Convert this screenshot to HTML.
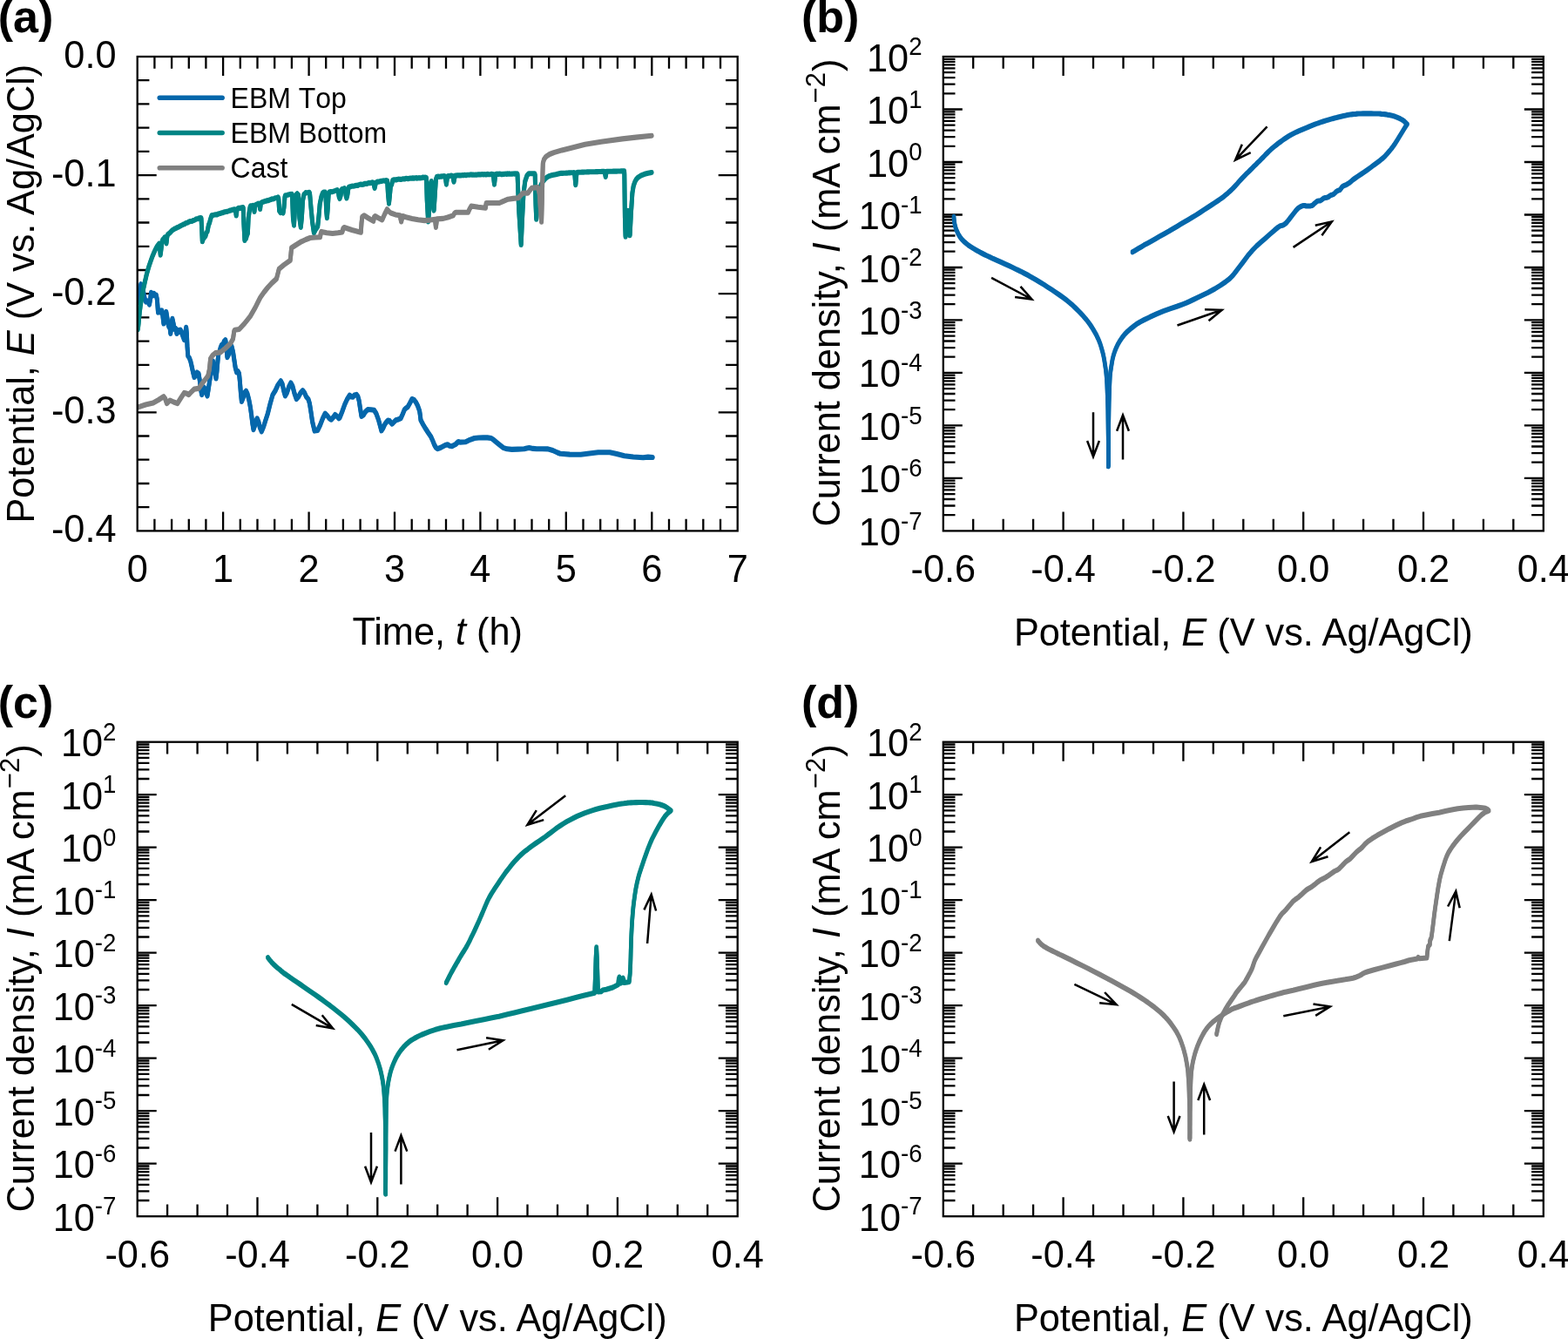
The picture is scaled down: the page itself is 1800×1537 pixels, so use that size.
<!DOCTYPE html>
<html lang="en"><head><meta charset="utf-8"><title>Figure</title>
<style>html,body{margin:0;padding:0;background:#fff;}svg{display:block;}text{font-family:"Liberation Sans", Arial, Helvetica, sans-serif;fill:#000;}</style>
</head><body>
<svg width="1800" height="1537" viewBox="0 0 1800 1537">
<rect width="1800" height="1537" fill="#fff"/>
<defs>
<clipPath id="ca"><rect x="157.7" y="65" width="689" height="544.4"/></clipPath>
<clipPath id="cb"><rect x="1082.8" y="65" width="689" height="544.4"/></clipPath>
<clipPath id="cc"><rect x="157.7" y="851.7" width="689" height="544.5"/></clipPath>
<clipPath id="cd"><rect x="1082.8" y="851.7" width="689" height="544.5"/></clipPath>
</defs>
<g id="panel-a">
<path d="M177.4 609.4L177.4 595.7M177.4 65L177.4 78.7M197.1 609.4L197.1 595.7M197.1 65L197.1 78.7M216.8 609.4L216.8 595.7M216.8 65L216.8 78.7M236.4 609.4L236.4 595.7M236.4 65L236.4 78.7M256.1 609.4L256.1 587.4M256.1 65L256.1 87M275.8 609.4L275.8 595.7M275.8 65L275.8 78.7M295.5 609.4L295.5 595.7M295.5 65L295.5 78.7M315.2 609.4L315.2 595.7M315.2 65L315.2 78.7M334.9 609.4L334.9 595.7M334.9 65L334.9 78.7M354.6 609.4L354.6 587.4M354.6 65L354.6 87M374.2 609.4L374.2 595.7M374.2 65L374.2 78.7M393.9 609.4L393.9 595.7M393.9 65L393.9 78.7M413.6 609.4L413.6 595.7M413.6 65L413.6 78.7M433.3 609.4L433.3 595.7M433.3 65L433.3 78.7M453 609.4L453 587.4M453 65L453 87M472.7 609.4L472.7 595.7M472.7 65L472.7 78.7M492.4 609.4L492.4 595.7M492.4 65L492.4 78.7M512 609.4L512 595.7M512 65L512 78.7M531.7 609.4L531.7 595.7M531.7 65L531.7 78.7M551.4 609.4L551.4 587.4M551.4 65L551.4 87M571.1 609.4L571.1 595.7M571.1 65L571.1 78.7M590.8 609.4L590.8 595.7M590.8 65L590.8 78.7M610.5 609.4L610.5 595.7M610.5 65L610.5 78.7M630.2 609.4L630.2 595.7M630.2 65L630.2 78.7M649.8 609.4L649.8 587.4M649.8 65L649.8 87M669.5 609.4L669.5 595.7M669.5 65L669.5 78.7M689.2 609.4L689.2 595.7M689.2 65L689.2 78.7M708.9 609.4L708.9 595.7M708.9 65L708.9 78.7M728.6 609.4L728.6 595.7M728.6 65L728.6 78.7M748.3 609.4L748.3 587.4M748.3 65L748.3 87M768 609.4L768 595.7M768 65L768 78.7M787.6 609.4L787.6 595.7M787.6 65L787.6 78.7M807.3 609.4L807.3 595.7M807.3 65L807.3 78.7M827 609.4L827 595.7M827 65L827 78.7" stroke="#000" stroke-width="2.3" fill="none"/>
<path d="M157.7 92.2L171.4 92.2M846.7 92.2L833 92.2M157.7 119.4L171.4 119.4M846.7 119.4L833 119.4M157.7 146.7L171.4 146.7M846.7 146.7L833 146.7M157.7 173.9L171.4 173.9M846.7 173.9L833 173.9M157.7 201.1L179.7 201.1M846.7 201.1L824.7 201.1M157.7 228.3L171.4 228.3M846.7 228.3L833 228.3M157.7 255.5L171.4 255.5M846.7 255.5L833 255.5M157.7 282.8L171.4 282.8M846.7 282.8L833 282.8M157.7 310L171.4 310M846.7 310L833 310M157.7 337.2L179.7 337.2M846.7 337.2L824.7 337.2M157.7 364.4L171.4 364.4M846.7 364.4L833 364.4M157.7 391.6L171.4 391.6M846.7 391.6L833 391.6M157.7 418.9L171.4 418.9M846.7 418.9L833 418.9M157.7 446.1L171.4 446.1M846.7 446.1L833 446.1M157.7 473.3L179.7 473.3M846.7 473.3L824.7 473.3M157.7 500.5L171.4 500.5M846.7 500.5L833 500.5M157.7 527.7L171.4 527.7M846.7 527.7L833 527.7M157.7 555L171.4 555M846.7 555L833 555M157.7 582.2L171.4 582.2M846.7 582.2L833 582.2" stroke="#000" stroke-width="2.3" fill="none"/>
<g clip-path="url(#ca)">
<path d="M158.3 346.4 L159.4 339.7 L160.6 331.4 L161.8 325.6 L163.4 328.4 L165 336.4 L166.4 343.4 L167.6 345.9 L169.4 344.9 L171.5 349 L172.6 342.4 L173.5 335.2 L175.2 338.9 L176.6 336.2 L178 338.4 L179.3 338 L180.4 343.4 L181.5 358 L183 355.6 L184.4 358 L185.8 355.9 L186.8 361.4 L187.9 370.9 L189 364.4 L189.8 360.4 L190.8 357.3 L191.8 363.4 L192.9 370.9 L193.8 374.4 L194.8 373.4 L195.8 382.4 L196.8 371.4 L197.9 365.2 L199.2 371.4 L200.2 377.4 L201.6 376.4 L202.9 382.4 L204.4 378.4 L205.8 380.4 L207.2 378.1 L208.6 381.4 L210 385.4 L211.5 389.5 L212.6 382.4 L213.7 375.2 L214.4 382.4 L215 397.4 L215.8 408.1 L217.2 409.9 L218.7 413.8 L220 419.4 L221.4 425.9 L223 432.4 L224.6 430.4 L226.2 426.9 L228 428.2 L229.2 435.4 L230.4 445.4 L231.6 452.5 L232.8 448.4 L234 443.9 L235.1 445.3 L236.4 450.4 L238 453.9 L239.2 446.4 L240.4 438.4 L241.6 431 L242.6 423.4 L243.4 416.4 L244.4 413.8 L245.6 419.4 L246.8 427.9 L248 433.9 L249 425.4 L250 413.4 L250.9 405.3 L252.2 402.4 L253.2 398.4 L254.5 395.2 L255.8 396.9 L257.2 391.4 L258.8 389.5 L259.8 397.4 L260.9 409.6 L262.4 406.4 L264 401.4 L265.9 396.7 L267.5 403.4 L269 413.4 L270.2 421.4 L271.6 426.7 L273 425.4 L274.5 428.2 L275.4 437.4 L276.4 450.4 L277.4 460.4 L279 456.4 L280.6 450.4 L282.4 448.2 L284 451.4 L285.8 458.4 L287.4 466.8 L288.6 475.4 L289.8 485.4 L291 492.6 L292.4 488.4 L293.8 482.4 L295.2 479.7 L296.8 483.4 L298.4 490.4 L300.3 494.7 L302.5 489.4 L305 481.4 L307.4 474 L310 463.4 L313.1 452.5 L316 447.9 L319 441.4 L322.4 436.7 L324.2 440.4 L325.8 448.4 L327.4 453.9 L329.4 450.4 L331.6 443.4 L333.9 438.9 L335.8 442.4 L338 450.9 L340.3 457.5 L342.6 454.9 L345 450.4 L347.5 447.5 L349.4 449.9 L351.6 454.9 L353.9 457.5 L355.4 462.4 L357 472.4 L358.6 483.4 L361.1 494 L364.7 493.3 L367.5 487.4 L370.4 479.9 L373.2 474 L375.6 476.4 L378 479.6 L380.4 481.1 L382.6 478.4 L384.7 475.4 L387 477.4 L389 479.7 L390 478.8 L392.6 472.4 L395.7 463.8 L398.4 457.9 L401.4 453.1 L403.2 454.9 L405 455.2 L407 452.9 L409.3 452.3 L410.8 454.4 L412.2 459.5 L413.4 467.4 L415 477.4 L417.2 475.9 L419.6 471.9 L422.2 469.5 L425.6 469.6 L429.4 470.2 L431.8 473.9 L434.4 481 L436.2 487.4 L437.9 493.8 L440 490.4 L441.8 486.4 L443.7 483.8 L445.4 482 L447.2 482.4 L448.6 484.4 L450.1 486 L452.2 483.9 L454.4 481.7 L457.2 480.9 L460.1 479.5 L462.2 474.9 L464.4 469.5 L466.2 467.8 L468 466.7 L470.4 462.4 L473 457.4 L475.2 458.2 L477.3 460.9 L479.4 464.9 L481.6 471 L482.4 476.4 L483 481.7 L485.8 486.9 L488.7 491.7 L491.6 496.2 L494.5 500.3 L496.6 504.9 L498.8 510.3 L500.4 513.2 L502.3 514.6 L505.5 513.4 L508.8 511.7 L511.2 510.4 L513.8 509.6 L516.2 511.2 L518.8 511.7 L523 509.4 L526.2 506.4 L528 507 L534.5 506.7 L539.5 504.2 L544.6 502.4 L549.5 501.9 L554.6 501.7 L559.5 501.8 L563.9 502.4 L567 504.6 L570.3 507.4 L574 510.4 L577.5 513.2 L582 514.7 L587.5 515.3 L594.5 515 L601.8 514.6 L604.8 513.9 L607.5 513.5 L611.8 514.3 L616.1 514.6 L622.5 514.7 L629 514.8 L634.5 516.4 L640 518.9 L643.3 520.2 L654 521 L666.7 521.1 L676.5 519.9 L686.7 518.6 L700 518.6 L708 520.4 L716.7 522.7 L727 523.9 L738.3 524.7 L744 524 L749.2 524.4" fill="none" stroke="#0567ab" stroke-width="4.9" stroke-linecap="round" stroke-linejoin="round"/>
<path d="M158.3 347.6 L159.4 340.9 L160.6 332.6 L161.8 326.8 L163.4 329.6 L165 337.6 L166.4 344.6 L167.6 347.1 L169.4 346.1 L171.5 350.2 L172.6 343.6 L173.5 336.4 L175.2 340.1 L176.6 337.4 L178 339.6 L179.3 339.2 L180.4 344.6 L181.5 359.2 L183 356.8 L184.4 359.2 L185.8 357.1 L186.8 362.6 L187.9 372.1 L189 365.6 L189.8 361.6 L190.8 358.5 L191.8 364.6 L192.9 372.1 L193.8 375.6 L194.8 374.6 L195.8 383.6 L196.8 372.6 L197.9 366.4 L199.2 372.6 L200.2 378.6 L201.6 377.6 L202.9 383.6 L204.4 379.6 L205.8 381.6 L207.2 379.3 L208.6 382.6 L210 386.6 L211.5 390.7 L212.6 383.6 L213.7 376.4 L214.4 383.6 L215 398.6 L215.8 409.3 L217.2 411.1 L218.7 415 L220 420.6 L221.4 427.1 L223 433.6 L224.6 431.6 L226.2 428.1 L228 429.4 L229.2 436.6 L230.4 446.6 L231.6 453.7 L232.8 449.6 L234 445.1 L235.1 446.5 L236.4 451.6 L238 455.1 L239.2 447.6 L240.4 439.6 L241.6 432.2 L242.6 424.6 L243.4 417.6 L244.4 415 L245.6 420.6 L246.8 429.1 L248 435.1 L249 426.6 L250 414.6 L250.9 406.5 L252.2 403.6 L253.2 399.6 L254.5 396.4 L255.8 398.1 L257.2 392.6 L258.8 390.7 L259.8 398.6 L260.9 410.8 L262.4 407.6 L264 402.6 L265.9 397.9 L267.5 404.6 L269 414.6 L270.2 422.6 L271.6 427.9 L273 426.6 L274.5 429.4 L275.4 438.6 L276.4 451.6 L277.4 461.6 L279 457.6 L280.6 451.6 L282.4 449.4 L284 452.6 L285.8 459.6 L287.4 468 L288.6 476.6 L289.8 486.6 L291 493.8 L292.4 489.6 L293.8 483.6 L295.2 480.9 L296.8 484.6 L298.4 491.6 L300.3 495.9 L302.5 490.6 L305 482.6 L307.4 475.2 L310 464.6 L313.1 453.7 L316 449.1 L319 442.6 L322.4 437.9 L324.2 441.6 L325.8 449.6 L327.4 455.1 L329.4 451.6 L331.6 444.6 L333.9 440.1 L335.8 443.6 L338 452.1 L340.3 458.7 L342.6 456.1 L345 451.6 L347.5 448.7 L349.4 451.1 L351.6 456.1 L353.9 458.7 L355.4 463.6 L357 473.6 L358.6 484.6 L361.1 495.2 L364.7 494.5 L367.5 488.6 L370.4 481.1 L373.2 475.2 L375.6 477.6 L378 480.8 L380.4 482.3 L382.6 479.6 L384.7 476.6 L387 478.6 L389 480.9 L390 480 L392.6 473.6 L395.7 465 L398.4 459.1 L401.4 454.3 L403.2 456.1 L405 456.4 L407 454.1 L409.3 453.5 L410.8 455.6 L412.2 460.7 L413.4 468.6 L415 478.6 L417.2 477.1 L419.6 473.1 L422.2 470.7 L425.6 470.8 L429.4 471.4 L431.8 475.1 L434.4 482.2 L436.2 488.6 L437.9 495 L440 491.6 L441.8 487.6 L443.7 485 L445.4 483.2 L447.2 483.6 L448.6 485.6 L450.1 487.2 L452.2 485.1 L454.4 482.9 L457.2 482.1 L460.1 480.7 L462.2 476.1 L464.4 470.7 L466.2 469 L468 467.9 L470.4 463.6 L473 458.6 L475.2 459.4 L477.3 462.1 L479.4 466.1 L481.6 472.2 L482.4 477.6 L483 482.9 L485.8 488.1 L488.7 492.9 L491.6 497.4 L494.5 501.5 L496.6 506.1 L498.8 511.5 L500.4 514.4 L502.3 515.8 L505.5 514.6 L508.8 512.9 L511.2 511.6 L513.8 510.8 L516.2 512.4 L518.8 512.9 L523 510.6 L526.2 507.6 L528 508.2 L534.5 507.9 L539.5 505.4 L544.6 503.6 L549.5 503.1 L554.6 502.9 L559.5 503 L563.9 503.6 L567 505.8 L570.3 508.6 L574 511.6 L577.5 514.4 L582 515.9 L587.5 516.5 L594.5 516.2 L601.8 515.8 L604.8 515.1 L607.5 514.7 L611.8 515.5 L616.1 515.8 L622.5 515.9 L629 516 L634.5 517.6 L640 520.1 L643.3 521.4 L654 522.2 L666.7 522.3 L676.5 521.1 L686.7 519.8 L700 519.8 L708 521.6 L716.7 523.9 L727 525.1 L738.3 525.9 L744 525.2 L749.2 525.6" fill="none" stroke="#0567ab" stroke-width="4.9" stroke-linecap="round" stroke-linejoin="round"/>
<path d="M158.1 377.9 L158.1 377.7 L158.2 377.5 L158.2 377.4 L158.3 377.1 L158.4 376.7 L158.4 376.1 L158.6 375.2 L158.7 374 L158.9 372.3 L159.1 370.3 L159.3 367.9 L159.5 365.4 L159.8 362.7 L160.1 360.1 L160.3 357.6 L160.6 355.3 L160.9 353.2 L161.1 351.2 L161.4 349.2 L161.7 347.3 L162 345.4 L162.3 343.5 L162.7 341.6 L163 339.7 L163.3 337.7 L163.7 335.8 L164.1 333.8 L164.5 331.8 L164.8 329.9 L165.3 327.9 L165.7 326 L166.1 324 L166.5 322 L167 320.1 L167.5 318.1 L167.9 316.1 L168.4 314.1 L168.9 312.2 L169.5 310.3 L170 308.4 L170.5 306.6 L171.1 304.7 L171.7 302.9 L172.3 301.2 L172.9 299.4 L173.5 297.7 L174.1 296 L174.7 294.4 L175.3 292.8 L176 291.2 L176.6 289.7 L177.3 288.2 L178 286.7 L178.7 285.3 L179.4 284 L180.1 282.7 L180.8 281.5 L182 280 L182.6 279.2 L183.2 280.4 L183.8 287.4 L184.2 292 L185 285.4 L186 276.9 L187 274.2 L188 273.3 L189 271.9 L189.6 271.5 L190.2 273.4 L191 278.8 L191.8 271.4 L192.6 268.6 L193.6 267.7 L194.6 267 L195.6 266.2 L196.6 264.8 L197.6 264 L198.6 263.2 L199.6 262.7 L200.6 261.8 L201.6 261.5 L202.6 261.1 L203.6 260.3 L204.6 260.1 L205.6 259.6 L206.6 258.8 L207.6 258.6 L208.6 257.9 L209.6 257.5 L210.6 256.9 L211.6 256.7 L212.6 256 L213.6 255.3 L214.6 255.1 L215.6 254.9 L216.6 254.1 L217.6 253.7 L218.6 253.4 L219.6 253.4 L220.6 253.1 L221.6 252.5 L222.6 252.3 L223.6 251.9 L224.6 251.2 L225.6 250.6 L226.6 250.7 L227.6 250.3 L228.6 249.8 L229.6 249.4 L230.6 249.4 L231 249.9 L231.6 261.4 L232.3 276.7 L233.4 273.4 L234.6 271.9 L235.9 270.4 L237 266.4 L238 265.4 L239.5 257.4 L240.5 255.4 L241.6 251 L243 246.7 L244 246.5 L245 246.3 L246 246 L247 245.8 L248 245.7 L249 245.8 L250 245.3 L251 244.8 L252 244.5 L253 244.4 L254 243.9 L255 243.6 L256 243.5 L257 242.9 L258 242.8 L259 242.4 L260 242.4 L261 242.1 L262 241.8 L263 241.5 L264 241 L265 240.9 L266 240.4 L267 240.3 L268 239.9 L269 239.7 L269.5 239.6 L270.3 240.4 L271.2 246.9 L272 240.4 L273 238.7 L274 238.2 L275 238.1 L276 238.4 L277 237.6 L278 237.7 L278.9 237.4 L279.2 237.9 L279.8 254.4 L280.9 275.3 L281.8 261.4 L282.4 273.4 L283.4 269.4 L284.4 267.4 L285.2 249.4 L286.2 242.4 L287 237.4 L287.6 235.8 L288.6 235.7 L289.6 235.6 L290.5 235.2 L291 235.4 L292 242.4 L292.8 234.9 L293.5 234.4 L294.5 234 L295.5 233.8 L296.5 233 L297 233.2 L297.6 233.4 L298.6 239.4 L299.4 232.6 L300 232.1 L301 231.4 L302 231.2 L303 230.8 L304 230.4 L305 230.1 L306 230 L307 229.4 L308 229.6 L309 229.1 L310 228.7 L311 228.4 L312 227.8 L313 227.9 L314 227.6 L315 227.2 L316 226.7 L317 226.7 L318 226.3 L319 226 L319.2 225.8 L319.8 227.4 L320.6 241.4 L322 243.4 L323.5 242.4 L325 243.9 L326 237.4 L327 225.4 L327.5 223.7 L328.5 223.8 L329.5 223.4 L330.5 223 L331.5 222.9 L332.5 222.5 L333.5 222.3 L334.5 222.5 L335 222.2 L335.4 223.4 L336.4 249.4 L337.5 258.1 L338.6 239.4 L339.6 223.4 L341.2 221.7 L342.6 223.4 L343.8 249.4 L345.3 260.3 L346.4 249.4 L347.6 229.4 L349 222.4 L350.3 221.4 L351 220.5 L352 220.6 L353 220.6 L354 220.5 L355 220.2 L355.6 221.4 L357 237.4 L358.6 254.4 L360.4 266.7 L362 263.4 L363.4 261.4 L364.7 259.5 L366 247.4 L367.2 233.4 L368.9 225.2 L370.5 220.9 L371.5 220 L372.5 220 L373.2 220 L373.8 221.4 L374.6 241.4 L375.4 249.5 L376.2 239.4 L377.2 222.4 L378.2 219.8 L379.2 219.4 L380.2 219.5 L381.2 219.6 L382.2 219.3 L383.2 218.9 L384.2 218.7 L385.2 218.2 L386.2 218 L387.2 217.6 L387.5 217.9 L388.2 218.9 L389.2 225.4 L390 227.4 L391 224.4 L392 217.9 L392.5 216.5 L393.5 216.5 L394.5 216 L395.5 215.6 L396.2 217.4 L397.2 224.4 L397.9 226.9 L398.8 223.4 L399.8 216.4 L400.5 214.2 L401.5 213.7 L402.5 213.6 L403.5 213.1 L404.5 213 L405.5 213.1 L406.5 212.9 L407.5 212.6 L408.5 212.3 L409.5 212.3 L410.5 212.4 L411.5 211.8 L412.5 211.4 L413.5 211.2 L414.5 211 L415.5 211.4 L416.5 210.9 L417.5 211 L418.5 210.3 L419.5 210.2 L420.5 210.3 L421.5 210.3 L422.5 209.7 L423.5 209.3 L424.5 209.7 L425.5 209.1 L426.5 209.3 L427.5 208.7 L428 208.8 L428.8 209.4 L430.1 215.4 L431.4 209.4 L433 208 L434 208 L435 208 L436 207.7 L437 207.3 L438 207.5 L439 206.9 L440 206.9 L441 206.8 L442 207.1 L443 206.4 L444 206.6 L444.6 206.9 L445.4 221.4 L446.5 233.1 L447.4 224.4 L448.4 213.4 L449.6 211.4 L450.8 206.2 L452 205.7 L453 205.9 L454 205.7 L455 205.8 L456 205.3 L457 205.1 L458 205 L459 205.3 L460 205.3 L461 205.1 L462 204.8 L463 204.6 L464 204.9 L465 204.8 L466 204.2 L467 204.2 L468 204.6 L469 204.5 L470 204.1 L471 204 L472 204 L473 204 L474 203.6 L475 204.1 L476 203.8 L477 203.9 L478 203.5 L479 204 L480 203.8 L481 203.4 L482 203.8 L483 203.6 L484 203.6 L485 203 L486 203 L487 203.4 L488 203 L489 203.1 L489.4 203.4 L490.2 229.4 L491.6 253.9 L492.8 239.4 L493.8 211.4 L495.2 207.4 L496.6 224.4 L498.1 241 L499.2 224.4 L500.4 205.4 L501.5 202.3 L502.5 202.2 L503.5 201.9 L504.5 202.4 L505.5 202 L506.5 202.2 L507.5 201.6 L508.5 201.8 L509.5 201.5 L510.5 201.7 L511.2 202.4 L512.4 211 L513.6 202 L514.5 201.5 L515.5 201.7 L516.5 201.3 L517.5 201 L518.5 201 L519 201.2 L519.8 201.6 L521 208.1 L522.2 201.2 L523 201 L524 201 L525 200.6 L526 200.6 L527 200.8 L528 200.7 L529 200.8 L530 200.7 L531 200.5 L532 200.6 L533 200.3 L534 200.3 L535 200.6 L536 200.1 L537 200.1 L538 200.1 L539 200.2 L540 199.9 L541 199.8 L542 200.1 L543 199.9 L544 200.2 L545 200.2 L546 200 L547 200.1 L548 199.8 L549 199.6 L550 199.8 L551 199.7 L552 199.9 L553 199.5 L554 199.5 L555 199.9 L556 199.5 L557 199.6 L558 199.9 L559 199.4 L560 199.3 L561 199.7 L562 199.6 L563 199.6 L564 199.1 L565 199.4 L565.5 199.4 L566.2 199.6 L567.5 211 L568.8 199.4 L569.5 199.3 L570.5 199 L571.5 199.1 L572.5 199.4 L573.5 198.9 L574.5 199.1 L575.5 199.5 L576.5 199.5 L577.5 199.1 L578.5 199.3 L579.5 199.2 L580.5 199 L581.5 199.3 L582.5 198.8 L583.5 199.2 L584.5 198.7 L585.5 199.2 L586.5 199.1 L587.5 198.9 L588.5 199 L589.5 198.8 L590.5 199 L591.5 198.6 L592.5 198.8 L593.5 199.1 L593.6 198.8 L594 199.4 L595.6 239.4 L598.2 280.4 L599.6 249.4 L601 221.4 L602.8 207.4 L605 200.9 L607 198.7 L608 198.7 L609 198.7 L610 198.7 L611 198.7 L612 198.7 L613 198.7 L613.8 198.7 L614.2 200.4 L615 234.4 L615.7 251.1 L617 234.4 L618.4 221.4 L620 213.9 L623 207.9 L626 204.4 L628.6 202.4 L631 201.3 L634 200.4 L638 199.6 L643 198.4 L644 198.3 L645 198.3 L646 198.3 L647 198.2 L648 198.1 L649 198.1 L650 198 L651 198 L652 197.9 L653 197.8 L654 197.8 L655 197.7 L656 197.7 L657 197.6 L658 197.6 L659 197.5 L659.6 197.9 L660.8 211.7 L662 197.6 L663 197.3 L664 197.2 L665 197.2 L666 197.1 L667 197.1 L668 197 L669 197 L670 197 L671 196.9 L672 196.9 L673 196.9 L674 196.8 L675 196.8 L676 196.8 L677 196.7 L678 196.7 L679 196.7 L680 196.6 L681 196.6 L682 196.6 L683 196.6 L684 196.5 L685 196.5 L686 196.5 L687 196.4 L688 196.4 L689 196.4 L690 196.4 L691 196.3 L692 196.3 L693 196.3 L693.5 196.3 L694.2 196.6 L695.2 202.4 L696.2 196.4 L697 196.2 L698 196.2 L699 196.2 L700 196.1 L701 196.1 L702 196.1 L703 196.1 L704 196 L705 196 L706 196 L707 196 L708 196 L709 195.9 L710 195.9 L711 195.9 L712 195.9 L713 195.8 L714 195.8 L715 195.8 L716 195.8 L716.6 195.7 L716.8 199.4 L717.4 249.4 L718.1 271.1 L719.6 261.4 L720.9 241.1 L722.2 261.4 L723.1 269.7 L724.4 244.4 L725.9 221 L727.2 212.9 L728.8 208.2 L730.5 205.2 L732.5 203 L736 200.8 L740 199.2 L744 198.2 L748 197.4 L748.1 197.4" fill="none" stroke="#008484" stroke-width="4.9" stroke-linecap="round" stroke-linejoin="round"/>
<path d="M158.1 379.1 L158.1 378.9 L158.2 378.7 L158.2 378.6 L158.3 378.3 L158.4 377.9 L158.4 377.3 L158.6 376.4 L158.7 375.2 L158.9 373.5 L159.1 371.5 L159.3 369.1 L159.5 366.6 L159.8 363.9 L160.1 361.3 L160.3 358.8 L160.6 356.5 L160.9 354.4 L161.1 352.4 L161.4 350.4 L161.7 348.5 L162 346.6 L162.3 344.7 L162.7 342.8 L163 340.9 L163.3 338.9 L163.7 337 L164.1 335 L164.5 333.1 L164.8 331.1 L165.3 329.1 L165.7 327.2 L166.1 325.2 L166.5 323.2 L167 321.3 L167.5 319.3 L167.9 317.3 L168.4 315.3 L168.9 313.4 L169.5 311.5 L170 309.6 L170.5 307.8 L171.1 305.9 L171.7 304.1 L172.3 302.4 L172.9 300.6 L173.5 298.9 L174.1 297.2 L174.7 295.6 L175.3 294 L176 292.4 L176.6 290.9 L177.3 289.4 L178 287.9 L178.7 286.5 L179.4 285.2 L180.1 283.9 L180.8 282.7 L182 281.2 L182.6 280.4 L183.2 281.6 L183.8 288.6 L184.2 293.2 L185 286.6 L186 278.1 L187 275.4 L188 274.5 L189 273.1 L189.6 272.7 L190.2 274.6 L191 280 L191.8 272.6 L192.6 269.8 L193.6 268.9 L194.6 268.2 L195.6 267.4 L196.6 266 L197.6 265.2 L198.6 264.4 L199.6 263.9 L200.6 263 L201.6 262.7 L202.6 262.3 L203.6 261.5 L204.6 261.3 L205.6 260.8 L206.6 260 L207.6 259.8 L208.6 259.1 L209.6 258.7 L210.6 258.1 L211.6 257.9 L212.6 257.2 L213.6 256.5 L214.6 256.3 L215.6 256.1 L216.6 255.3 L217.6 254.9 L218.6 254.6 L219.6 254.6 L220.6 254.3 L221.6 253.7 L222.6 253.5 L223.6 253.1 L224.6 252.4 L225.6 251.8 L226.6 251.9 L227.6 251.5 L228.6 251 L229.6 250.6 L230.6 250.6 L231 251.1 L231.6 262.6 L232.3 277.9 L233.4 274.6 L234.6 273.1 L235.9 271.6 L237 267.6 L238 266.6 L239.5 258.6 L240.5 256.6 L241.6 252.2 L243 247.9 L244 247.7 L245 247.5 L246 247.2 L247 247 L248 246.9 L249 247 L250 246.5 L251 246 L252 245.7 L253 245.6 L254 245.1 L255 244.8 L256 244.7 L257 244.1 L258 244 L259 243.6 L260 243.6 L261 243.3 L262 243 L263 242.7 L264 242.2 L265 242.1 L266 241.6 L267 241.5 L268 241.1 L269 240.9 L269.5 240.8 L270.3 241.6 L271.2 248.1 L272 241.6 L273 239.9 L274 239.4 L275 239.3 L276 239.6 L277 238.8 L278 238.9 L278.9 238.6 L279.2 239.1 L279.8 255.6 L280.9 276.5 L281.8 262.6 L282.4 274.6 L283.4 270.6 L284.4 268.6 L285.2 250.6 L286.2 243.6 L287 238.6 L287.6 237 L288.6 236.9 L289.6 236.8 L290.5 236.4 L291 236.6 L292 243.6 L292.8 236.1 L293.5 235.6 L294.5 235.2 L295.5 235 L296.5 234.2 L297 234.4 L297.6 234.6 L298.6 240.6 L299.4 233.8 L300 233.3 L301 232.6 L302 232.4 L303 232 L304 231.6 L305 231.3 L306 231.2 L307 230.6 L308 230.8 L309 230.3 L310 229.9 L311 229.6 L312 229 L313 229.1 L314 228.8 L315 228.4 L316 227.9 L317 227.9 L318 227.5 L319 227.2 L319.2 227 L319.8 228.6 L320.6 242.6 L322 244.6 L323.5 243.6 L325 245.1 L326 238.6 L327 226.6 L327.5 224.9 L328.5 225 L329.5 224.6 L330.5 224.2 L331.5 224.1 L332.5 223.7 L333.5 223.5 L334.5 223.7 L335 223.4 L335.4 224.6 L336.4 250.6 L337.5 259.3 L338.6 240.6 L339.6 224.6 L341.2 222.9 L342.6 224.6 L343.8 250.6 L345.3 261.5 L346.4 250.6 L347.6 230.6 L349 223.6 L350.3 222.6 L351 221.7 L352 221.8 L353 221.8 L354 221.7 L355 221.4 L355.6 222.6 L357 238.6 L358.6 255.6 L360.4 267.9 L362 264.6 L363.4 262.6 L364.7 260.7 L366 248.6 L367.2 234.6 L368.9 226.4 L370.5 222.1 L371.5 221.2 L372.5 221.2 L373.2 221.2 L373.8 222.6 L374.6 242.6 L375.4 250.7 L376.2 240.6 L377.2 223.6 L378.2 221 L379.2 220.6 L380.2 220.7 L381.2 220.8 L382.2 220.5 L383.2 220.1 L384.2 219.9 L385.2 219.4 L386.2 219.2 L387.2 218.8 L387.5 219.1 L388.2 220.1 L389.2 226.6 L390 228.6 L391 225.6 L392 219.1 L392.5 217.7 L393.5 217.7 L394.5 217.2 L395.5 216.8 L396.2 218.6 L397.2 225.6 L397.9 228.1 L398.8 224.6 L399.8 217.6 L400.5 215.4 L401.5 214.9 L402.5 214.8 L403.5 214.3 L404.5 214.2 L405.5 214.3 L406.5 214.1 L407.5 213.8 L408.5 213.5 L409.5 213.5 L410.5 213.6 L411.5 213 L412.5 212.6 L413.5 212.4 L414.5 212.2 L415.5 212.6 L416.5 212.1 L417.5 212.2 L418.5 211.5 L419.5 211.4 L420.5 211.5 L421.5 211.5 L422.5 210.9 L423.5 210.5 L424.5 210.9 L425.5 210.3 L426.5 210.5 L427.5 209.9 L428 210 L428.8 210.6 L430.1 216.6 L431.4 210.6 L433 209.2 L434 209.2 L435 209.2 L436 208.9 L437 208.5 L438 208.7 L439 208.1 L440 208.1 L441 208 L442 208.3 L443 207.6 L444 207.8 L444.6 208.1 L445.4 222.6 L446.5 234.3 L447.4 225.6 L448.4 214.6 L449.6 212.6 L450.8 207.4 L452 206.9 L453 207.1 L454 206.9 L455 207 L456 206.5 L457 206.3 L458 206.2 L459 206.5 L460 206.5 L461 206.3 L462 206 L463 205.8 L464 206.1 L465 206 L466 205.4 L467 205.4 L468 205.8 L469 205.7 L470 205.3 L471 205.2 L472 205.2 L473 205.2 L474 204.8 L475 205.3 L476 205 L477 205.1 L478 204.7 L479 205.2 L480 205 L481 204.6 L482 205 L483 204.8 L484 204.8 L485 204.2 L486 204.2 L487 204.6 L488 204.2 L489 204.3 L489.4 204.6 L490.2 230.6 L491.6 255.1 L492.8 240.6 L493.8 212.6 L495.2 208.6 L496.6 225.6 L498.1 242.2 L499.2 225.6 L500.4 206.6 L501.5 203.5 L502.5 203.4 L503.5 203.1 L504.5 203.6 L505.5 203.2 L506.5 203.4 L507.5 202.8 L508.5 203 L509.5 202.7 L510.5 202.9 L511.2 203.6 L512.4 212.2 L513.6 203.2 L514.5 202.7 L515.5 202.9 L516.5 202.5 L517.5 202.2 L518.5 202.2 L519 202.4 L519.8 202.8 L521 209.3 L522.2 202.4 L523 202.2 L524 202.2 L525 201.8 L526 201.8 L527 202 L528 201.9 L529 202 L530 201.9 L531 201.7 L532 201.8 L533 201.5 L534 201.5 L535 201.8 L536 201.3 L537 201.3 L538 201.3 L539 201.4 L540 201.1 L541 201 L542 201.3 L543 201.1 L544 201.4 L545 201.4 L546 201.2 L547 201.3 L548 201 L549 200.8 L550 201 L551 200.9 L552 201.1 L553 200.7 L554 200.7 L555 201.1 L556 200.7 L557 200.8 L558 201.1 L559 200.6 L560 200.5 L561 200.9 L562 200.8 L563 200.8 L564 200.3 L565 200.6 L565.5 200.6 L566.2 200.8 L567.5 212.2 L568.8 200.6 L569.5 200.5 L570.5 200.2 L571.5 200.3 L572.5 200.6 L573.5 200.1 L574.5 200.3 L575.5 200.7 L576.5 200.7 L577.5 200.3 L578.5 200.5 L579.5 200.4 L580.5 200.2 L581.5 200.5 L582.5 200 L583.5 200.4 L584.5 199.9 L585.5 200.4 L586.5 200.3 L587.5 200.1 L588.5 200.2 L589.5 200 L590.5 200.2 L591.5 199.8 L592.5 200 L593.5 200.3 L593.6 200 L594 200.6 L595.6 240.6 L598.2 281.6 L599.6 250.6 L601 222.6 L602.8 208.6 L605 202.1 L607 199.9 L608 199.9 L609 199.9 L610 199.9 L611 199.9 L612 199.9 L613 199.9 L613.8 199.9 L614.2 201.6 L615 235.6 L615.7 252.3 L617 235.6 L618.4 222.6 L620 215.1 L623 209.1 L626 205.6 L628.6 203.6 L631 202.5 L634 201.6 L638 200.8 L643 199.6 L644 199.5 L645 199.5 L646 199.5 L647 199.4 L648 199.3 L649 199.3 L650 199.2 L651 199.2 L652 199.1 L653 199 L654 199 L655 198.9 L656 198.9 L657 198.8 L658 198.8 L659 198.7 L659.6 199.1 L660.8 212.9 L662 198.8 L663 198.5 L664 198.4 L665 198.4 L666 198.3 L667 198.3 L668 198.2 L669 198.2 L670 198.2 L671 198.1 L672 198.1 L673 198.1 L674 198 L675 198 L676 198 L677 197.9 L678 197.9 L679 197.9 L680 197.8 L681 197.8 L682 197.8 L683 197.8 L684 197.7 L685 197.7 L686 197.7 L687 197.6 L688 197.6 L689 197.6 L690 197.6 L691 197.5 L692 197.5 L693 197.5 L693.5 197.5 L694.2 197.8 L695.2 203.6 L696.2 197.6 L697 197.4 L698 197.4 L699 197.4 L700 197.3 L701 197.3 L702 197.3 L703 197.3 L704 197.2 L705 197.2 L706 197.2 L707 197.2 L708 197.2 L709 197.1 L710 197.1 L711 197.1 L712 197.1 L713 197 L714 197 L715 197 L716 197 L716.6 196.9 L716.8 200.6 L717.4 250.6 L718.1 272.3 L719.6 262.6 L720.9 242.3 L722.2 262.6 L723.1 270.9 L724.4 245.6 L725.9 222.2 L727.2 214.1 L728.8 209.4 L730.5 206.4 L732.5 204.2 L736 202 L740 200.4 L744 199.4 L748 198.6 L748.1 198.6" fill="none" stroke="#008484" stroke-width="4.9" stroke-linecap="round" stroke-linejoin="round"/>
<path d="M158.6 466.8 L167.2 463.9 L175.8 461.8 L182 458.4 L187.9 454.6 L189.6 456.9 L191.5 462.5 L195.1 458.9 L199.5 460.9 L203.7 462.5 L207.5 456.4 L211.5 450.3 L214 450.9 L216.5 452.5 L219.5 449.4 L223 446 L228 445.3 L233 438.4 L238.7 431 L240.4 423.4 L241.6 411 L244 407.4 L247.3 404.5 L253 403.8 L258.5 399.4 L264.5 393.8 L267.5 388.4 L268.8 379.4 L269.5 378.1 L274.5 377.4 L281 370.4 L287.4 362.3 L293.1 352.3 L296 346.4 L298.8 340.9 L303 334.9 L307.4 329.4 L312 324.4 L317.4 319.4 L319 313.4 L320.3 308.2 L326 303.4 L333.2 298.2 L333.9 291.4 L334.6 283.9 L340 280.4 L346 276.7 L351 274.4 L356.1 272.4 L362 271.9 L367.5 271.7 L368.2 267.4 L368.9 265.3 L375 266.6 L381.8 267.4 L388 266.7 L392.9 265.8 L394 261.4 L395 260.4 L404 263.4 L414.3 266.1 L415 255.4 L415.8 248.2 L417.9 246.7 L423 249.9 L428.7 253.2 L429.6 248.4 L430.6 247.4 L434 249.4 L438.7 251.8 L441.5 245.4 L444.4 239.6 L446.5 242.2 L448.7 243.9 L454 245.8 L459 246.6 L460.6 253.9 L462.2 247.4 L466 248.6 L473 250.3 L480 251.7 L487.3 252.5 L494 252 L499.4 251.2 L500.4 260.3 L501.6 250.8 L508.8 250.3 L514 248.9 L520.2 246.7 L521.6 244.4 L523.1 243.2 L530 243.2 L537.4 243.2 L539 239.4 L541 236 L549 237.2 L557.4 238.2 L557.8 235.4 L558.2 232.4 L565 232.4 L573.2 232.4 L578 230.2 L583.2 228.1 L589 227.3 L594.7 226.7 L597.5 223.9 L600.4 221 L606.1 221 L608.2 217.9 L610.4 215.3 L614 214.8 L617.5 214.5 L619.2 221.4 L620.4 239.4 L621.6 254.2 L622.3 229.4 L622.9 199.4 L623.3 186.6 L624.5 182.4 L626.1 180 L628.5 178 L631 176.4 L635.8 174.5 L645 171.8 L655 169.3 L671.6 165.2 L690 162.2 L714.5 158.8 L730 157 L748.1 155.2" fill="none" stroke="#808080" stroke-width="4.9" stroke-linecap="round" stroke-linejoin="round"/>
<path d="M158.6 468 L167.2 465.1 L175.8 463 L182 459.6 L187.9 455.8 L189.6 458.1 L191.5 463.7 L195.1 460.1 L199.5 462.1 L203.7 463.7 L207.5 457.6 L211.5 451.5 L214 452.1 L216.5 453.7 L219.5 450.6 L223 447.2 L228 446.5 L233 439.6 L238.7 432.2 L240.4 424.6 L241.6 412.2 L244 408.6 L247.3 405.7 L253 405 L258.5 400.6 L264.5 395 L267.5 389.6 L268.8 380.6 L269.5 379.3 L274.5 378.6 L281 371.6 L287.4 363.5 L293.1 353.5 L296 347.6 L298.8 342.1 L303 336.1 L307.4 330.6 L312 325.6 L317.4 320.6 L319 314.6 L320.3 309.4 L326 304.6 L333.2 299.4 L333.9 292.6 L334.6 285.1 L340 281.6 L346 277.9 L351 275.6 L356.1 273.6 L362 273.1 L367.5 272.9 L368.2 268.6 L368.9 266.5 L375 267.8 L381.8 268.6 L388 267.9 L392.9 267 L394 262.6 L395 261.6 L404 264.6 L414.3 267.3 L415 256.6 L415.8 249.4 L417.9 247.9 L423 251.1 L428.7 254.4 L429.6 249.6 L430.6 248.6 L434 250.6 L438.7 253 L441.5 246.6 L444.4 240.8 L446.5 243.4 L448.7 245.1 L454 247 L459 247.8 L460.6 255.1 L462.2 248.6 L466 249.8 L473 251.5 L480 252.9 L487.3 253.7 L494 253.2 L499.4 252.4 L500.4 261.5 L501.6 252 L508.8 251.5 L514 250.1 L520.2 247.9 L521.6 245.6 L523.1 244.4 L530 244.4 L537.4 244.4 L539 240.6 L541 237.2 L549 238.4 L557.4 239.4 L557.8 236.6 L558.2 233.6 L565 233.6 L573.2 233.6 L578 231.4 L583.2 229.3 L589 228.5 L594.7 227.9 L597.5 225.1 L600.4 222.2 L606.1 222.2 L608.2 219.1 L610.4 216.5 L614 216 L617.5 215.7 L619.2 222.6 L620.4 240.6 L621.6 255.4 L622.3 230.6 L622.9 200.6 L623.3 187.8 L624.5 183.6 L626.1 181.2 L628.5 179.2 L631 177.6 L635.8 175.7 L645 173 L655 170.5 L671.6 166.4 L690 163.4 L714.5 160 L730 158.2 L748.1 156.4" fill="none" stroke="#808080" stroke-width="4.9" stroke-linecap="round" stroke-linejoin="round"/>
</g>
<rect x="157.7" y="65" width="689" height="544.4" fill="none" stroke="#000" stroke-width="2.3"/>
<text transform="translate(133.5 77.5) scale(1 1.04)" font-size="43.3" text-anchor="end">0.0</text>
<text transform="translate(133.5 213.6) scale(1 1.04)" font-size="43.3" text-anchor="end">-0.1</text>
<text transform="translate(133.5 349.7) scale(1 1.04)" font-size="43.3" text-anchor="end">-0.2</text>
<text transform="translate(133.5 485.8) scale(1 1.04)" font-size="43.3" text-anchor="end">-0.3</text>
<text transform="translate(133.5 621.9) scale(1 1.04)" font-size="43.3" text-anchor="end">-0.4</text>
<text transform="translate(157.7 668) scale(1 1.04)" font-size="43.3" text-anchor="middle">0</text>
<text transform="translate(256.1 668) scale(1 1.04)" font-size="43.3" text-anchor="middle">1</text>
<text transform="translate(354.6 668) scale(1 1.04)" font-size="43.3" text-anchor="middle">2</text>
<text transform="translate(453 668) scale(1 1.04)" font-size="43.3" text-anchor="middle">3</text>
<text transform="translate(551.4 668) scale(1 1.04)" font-size="43.3" text-anchor="middle">4</text>
<text transform="translate(649.8 668) scale(1 1.04)" font-size="43.3" text-anchor="middle">5</text>
<text transform="translate(748.3 668) scale(1 1.04)" font-size="43.3" text-anchor="middle">6</text>
<text transform="translate(846.7 668) scale(1 1.04)" font-size="43.3" text-anchor="middle">7</text>
<text transform="translate(502.2 740.4) scale(1 1.04)" font-size="43.3" text-anchor="middle">Time, <tspan font-style="italic">t</tspan> (h)</text>
<text transform="translate(39.2 337.2) rotate(-90) scale(1 1.04)" font-size="43.3" text-anchor="middle">Potential, <tspan font-style="italic">E</tspan> (V vs. Ag/AgCl)</text>
<line x1="183.3" y1="112.2" x2="255.1" y2="112.2" stroke="#0567ab" stroke-width="5.6" stroke-linecap="round"/>
<text transform="translate(264.6 123.5) scale(1 1.04)" font-size="32" text-anchor="start" style="font-kerning:none">EBM Top</text>
<line x1="183.3" y1="152.5" x2="255.1" y2="152.5" stroke="#008484" stroke-width="5.6" stroke-linecap="round"/>
<text transform="translate(264.6 163.8) scale(1 1.04)" font-size="32" text-anchor="start" style="font-kerning:none">EBM Bottom</text>
<line x1="183.3" y1="192.7" x2="255.1" y2="192.7" stroke="#808080" stroke-width="5.6" stroke-linecap="round"/>
<text transform="translate(264.6 204) scale(1 1.04)" font-size="32" text-anchor="start" style="font-kerning:none">Cast</text>
<text x="-2.3" y="37.4" font-size="52" font-weight="bold">(a)</text>
</g>
<g id="panel-b">
<path d="M1117.2 609.4L1117.2 595.7M1117.2 65L1117.2 78.7M1151.7 609.4L1151.7 595.7M1151.7 65L1151.7 78.7M1186.1 609.4L1186.1 595.7M1186.1 65L1186.1 78.7M1220.6 609.4L1220.6 587.4M1220.6 65L1220.6 87M1255 609.4L1255 595.7M1255 65L1255 78.7M1289.5 609.4L1289.5 595.7M1289.5 65L1289.5 78.7M1324 609.4L1324 595.7M1324 65L1324 78.7M1358.4 609.4L1358.4 587.4M1358.4 65L1358.4 87M1392.8 609.4L1392.8 595.7M1392.8 65L1392.8 78.7M1427.3 609.4L1427.3 595.7M1427.3 65L1427.3 78.7M1461.8 609.4L1461.8 595.7M1461.8 65L1461.8 78.7M1496.2 609.4L1496.2 587.4M1496.2 65L1496.2 87M1530.7 609.4L1530.7 595.7M1530.7 65L1530.7 78.7M1565.1 609.4L1565.1 595.7M1565.1 65L1565.1 78.7M1599.5 609.4L1599.5 595.7M1599.5 65L1599.5 78.7M1634 609.4L1634 587.4M1634 65L1634 87M1668.4 609.4L1668.4 595.7M1668.4 65L1668.4 78.7M1702.9 609.4L1702.9 595.7M1702.9 65L1702.9 78.7M1737.3 609.4L1737.3 595.7M1737.3 65L1737.3 78.7" stroke="#000" stroke-width="2.3" fill="none"/>
<path d="M1082.8 591.2L1096.5 591.2M1771.8 591.2L1758.1 591.2M1082.8 580.5L1096.5 580.5M1771.8 580.5L1758.1 580.5M1082.8 573L1096.5 573M1771.8 573L1758.1 573M1082.8 567.1L1096.5 567.1M1771.8 567.1L1758.1 567.1M1082.8 562.3L1096.5 562.3M1771.8 562.3L1758.1 562.3M1082.8 558.3L1096.5 558.3M1771.8 558.3L1758.1 558.3M1082.8 554.8L1096.5 554.8M1771.8 554.8L1758.1 554.8M1082.8 551.7L1096.5 551.7M1771.8 551.7L1758.1 551.7M1082.8 548.9L1104.8 548.9M1771.8 548.9L1749.8 548.9M1082.8 530.7L1096.5 530.7M1771.8 530.7L1758.1 530.7M1082.8 520.1L1096.5 520.1M1771.8 520.1L1758.1 520.1M1082.8 512.5L1096.5 512.5M1771.8 512.5L1758.1 512.5M1082.8 506.6L1096.5 506.6M1771.8 506.6L1758.1 506.6M1082.8 501.8L1096.5 501.8M1771.8 501.8L1758.1 501.8M1082.8 497.8L1096.5 497.8M1771.8 497.8L1758.1 497.8M1082.8 494.3L1096.5 494.3M1771.8 494.3L1758.1 494.3M1082.8 491.2L1096.5 491.2M1771.8 491.2L1758.1 491.2M1082.8 488.4L1104.8 488.4M1771.8 488.4L1749.8 488.4M1082.8 470.2L1096.5 470.2M1771.8 470.2L1758.1 470.2M1082.8 459.6L1096.5 459.6M1771.8 459.6L1758.1 459.6M1082.8 452L1096.5 452M1771.8 452L1758.1 452M1082.8 446.1L1096.5 446.1M1771.8 446.1L1758.1 446.1M1082.8 441.4L1096.5 441.4M1771.8 441.4L1758.1 441.4M1082.8 437.3L1096.5 437.3M1771.8 437.3L1758.1 437.3M1082.8 433.8L1096.5 433.8M1771.8 433.8L1758.1 433.8M1082.8 430.7L1096.5 430.7M1771.8 430.7L1758.1 430.7M1082.8 427.9L1104.8 427.9M1771.8 427.9L1749.8 427.9M1082.8 409.7L1096.5 409.7M1771.8 409.7L1758.1 409.7M1082.8 399.1L1096.5 399.1M1771.8 399.1L1758.1 399.1M1082.8 391.5L1096.5 391.5M1771.8 391.5L1758.1 391.5M1082.8 385.7L1096.5 385.7M1771.8 385.7L1758.1 385.7M1082.8 380.9L1096.5 380.9M1771.8 380.9L1758.1 380.9M1082.8 376.8L1096.5 376.8M1771.8 376.8L1758.1 376.8M1082.8 373.3L1096.5 373.3M1771.8 373.3L1758.1 373.3M1082.8 370.2L1096.5 370.2M1771.8 370.2L1758.1 370.2M1082.8 367.4L1104.8 367.4M1771.8 367.4L1749.8 367.4M1082.8 349.2L1096.5 349.2M1771.8 349.2L1758.1 349.2M1082.8 338.6L1096.5 338.6M1771.8 338.6L1758.1 338.6M1082.8 331L1096.5 331M1771.8 331L1758.1 331M1082.8 325.2L1096.5 325.2M1771.8 325.2L1758.1 325.2M1082.8 320.4L1096.5 320.4M1771.8 320.4L1758.1 320.4M1082.8 316.3L1096.5 316.3M1771.8 316.3L1758.1 316.3M1082.8 312.8L1096.5 312.8M1771.8 312.8L1758.1 312.8M1082.8 309.7L1096.5 309.7M1771.8 309.7L1758.1 309.7M1082.8 307L1104.8 307M1771.8 307L1749.8 307M1082.8 288.7L1096.5 288.7M1771.8 288.7L1758.1 288.7M1082.8 278.1L1096.5 278.1M1771.8 278.1L1758.1 278.1M1082.8 270.5L1096.5 270.5M1771.8 270.5L1758.1 270.5M1082.8 264.7L1096.5 264.7M1771.8 264.7L1758.1 264.7M1082.8 259.9L1096.5 259.9M1771.8 259.9L1758.1 259.9M1082.8 255.8L1096.5 255.8M1771.8 255.8L1758.1 255.8M1082.8 252.3L1096.5 252.3M1771.8 252.3L1758.1 252.3M1082.8 249.2L1096.5 249.2M1771.8 249.2L1758.1 249.2M1082.8 246.5L1104.8 246.5M1771.8 246.5L1749.8 246.5M1082.8 228.3L1096.5 228.3M1771.8 228.3L1758.1 228.3M1082.8 217.6L1096.5 217.6M1771.8 217.6L1758.1 217.6M1082.8 210L1096.5 210M1771.8 210L1758.1 210M1082.8 204.2L1096.5 204.2M1771.8 204.2L1758.1 204.2M1082.8 199.4L1096.5 199.4M1771.8 199.4L1758.1 199.4M1082.8 195.3L1096.5 195.3M1771.8 195.3L1758.1 195.3M1082.8 191.8L1096.5 191.8M1771.8 191.8L1758.1 191.8M1082.8 188.7L1096.5 188.7M1771.8 188.7L1758.1 188.7M1082.8 186L1104.8 186M1771.8 186L1749.8 186M1082.8 167.8L1096.5 167.8M1771.8 167.8L1758.1 167.8M1082.8 157.1L1096.5 157.1M1771.8 157.1L1758.1 157.1M1082.8 149.6L1096.5 149.6M1771.8 149.6L1758.1 149.6M1082.8 143.7L1096.5 143.7M1771.8 143.7L1758.1 143.7M1082.8 138.9L1096.5 138.9M1771.8 138.9L1758.1 138.9M1082.8 134.9L1096.5 134.9M1771.8 134.9L1758.1 134.9M1082.8 131.4L1096.5 131.4M1771.8 131.4L1758.1 131.4M1082.8 128.3L1096.5 128.3M1771.8 128.3L1758.1 128.3M1082.8 125.5L1104.8 125.5M1771.8 125.5L1749.8 125.5M1082.8 107.3L1096.5 107.3M1771.8 107.3L1758.1 107.3M1082.8 96.6L1096.5 96.6M1771.8 96.6L1758.1 96.6M1082.8 89.1L1096.5 89.1M1771.8 89.1L1758.1 89.1M1082.8 83.2L1096.5 83.2M1771.8 83.2L1758.1 83.2M1082.8 78.4L1096.5 78.4M1771.8 78.4L1758.1 78.4M1082.8 74.4L1096.5 74.4M1771.8 74.4L1758.1 74.4M1082.8 70.9L1096.5 70.9M1771.8 70.9L1758.1 70.9M1082.8 67.8L1096.5 67.8M1771.8 67.8L1758.1 67.8" stroke="#000" stroke-width="2.3" fill="none"/>
<g clip-path="url(#cb)">
<path d="M1095 248.1 L1095.1 248.7 L1095.1 249.7 L1095.2 250.9 L1095.4 252.1 L1095.5 253.2 L1095.6 254.4 L1095.8 255.5 L1096 256.7 L1096.2 257.9 L1096.5 259.1 L1096.9 260.3 L1097.3 261.5 L1097.7 262.8 L1098.3 264 L1098.8 265.2 L1099.4 266.5 L1099.9 267.7 L1100.6 268.9 L1101.3 270.1 L1102.1 271.2 L1103 272.5 L1104 273.7 L1105.1 274.9 L1106.3 276.1 L1107.5 277.2 L1108.7 278.3 L1109.9 279.3 L1111.2 280.3 L1112.6 281.3 L1114.2 282.4 L1116.1 283.6 L1118.2 284.9 L1120.4 286.2 L1122.7 287.5 L1125 288.8 L1127.1 289.9 L1129 290.9 L1131 291.9 L1133.4 293 L1136.4 294.4 L1140.1 296.2 L1144.5 298.1 L1149.1 300.2 L1153.9 302.3 L1158.5 304.4 L1162.9 306.5 L1167.3 308.7 L1171.8 310.8 L1176.2 313.1 L1180.6 315.4 L1185 317.9 L1189.4 320.5 L1193.9 323.2 L1198.3 325.9 L1202.7 328.8 L1207.2 331.7 L1211.9 334.8 L1216.5 338 L1220.9 341.2 L1224.9 344.2 L1228.5 347.2 L1231.8 350.1 L1234.8 353 L1237.7 355.9 L1240.4 358.6 L1242.9 361.3 L1245.2 363.9 L1247.4 366.5 L1249.4 369.2 L1251.4 371.9 L1253.4 374.9 L1255.3 378 L1257.1 381.1 L1258.8 384.2 L1260.3 387.4 L1261.6 390.4 L1262.8 393.5 L1263.8 396.6 L1264.7 399.7 L1265.6 402.9 L1266.4 405.9 L1267 408.9 L1267.6 412 L1268.1 415.1 L1268.6 418.4 L1269.1 421.6 L1269.5 424.8 L1269.9 428.2 L1270.2 431.9 L1270.5 436.1 L1270.8 440.6 L1271 445.6 L1271.2 450.9 L1271.4 456.5 L1271.6 462.6 L1271.8 469.4 L1271.9 476.6 L1272 484.2 L1272.1 491.9 L1272.2 499.2 L1272.3 507 L1272.3 515.2 L1272.3 523 L1272.3 529.8 L1272.3 534.5" fill="none" stroke="#0567ab" stroke-width="4.6" stroke-linecap="round" stroke-linejoin="round"/>
<path d="M1095 249.6 L1095.1 250.2 L1095.1 251.2 L1095.2 252.4 L1095.4 253.6 L1095.5 254.8 L1095.6 255.9 L1095.8 257 L1096 258.2 L1096.2 259.4 L1096.5 260.6 L1096.9 261.8 L1097.3 263 L1097.7 264.3 L1098.3 265.5 L1098.8 266.8 L1099.4 268 L1099.9 269.2 L1100.6 270.4 L1101.3 271.6 L1102.1 272.8 L1103 274 L1104 275.2 L1105.1 276.4 L1106.3 277.6 L1107.5 278.8 L1108.7 279.8 L1109.9 280.8 L1111.2 281.8 L1112.6 282.8 L1114.2 283.9 L1116.1 285.1 L1118.2 286.4 L1120.4 287.7 L1122.7 289 L1125 290.2 L1127.1 291.4 L1129 292.4 L1131 293.4 L1133.4 294.5 L1136.4 295.9 L1140.1 297.7 L1144.5 299.6 L1149.1 301.7 L1153.9 303.8 L1158.5 305.9 L1162.9 308 L1167.3 310.2 L1171.8 312.3 L1176.2 314.6 L1180.6 316.9 L1185 319.4 L1189.4 322 L1193.9 324.7 L1198.3 327.4 L1202.7 330.2 L1207.2 333.2 L1211.9 336.3 L1216.5 339.5 L1220.9 342.7 L1224.9 345.8 L1228.5 348.7 L1231.8 351.6 L1234.8 354.5 L1237.7 357.4 L1240.4 360.1 L1242.9 362.8 L1245.2 365.4 L1247.4 368 L1249.4 370.7 L1251.4 373.4 L1253.4 376.4 L1255.3 379.5 L1257.1 382.6 L1258.8 385.7 L1260.3 388.9 L1261.6 391.9 L1262.8 395 L1263.8 398.1 L1264.7 401.2 L1265.6 404.4 L1266.4 407.4 L1267 410.4 L1267.6 413.5 L1268.1 416.6 L1268.6 419.9 L1269.1 423.1 L1269.5 426.3 L1269.9 429.7 L1270.2 433.4 L1270.5 437.6 L1270.8 442.1 L1271 447.1 L1271.2 452.4 L1271.4 458 L1271.6 464.1 L1271.8 470.9 L1271.9 478.1 L1272 485.7 L1272.1 493.4 L1272.2 500.8 L1272.3 508.5 L1272.3 516.7 L1272.3 524.5 L1272.3 531.3 L1272.3 536" fill="none" stroke="#0567ab" stroke-width="4.6" stroke-linecap="round" stroke-linejoin="round"/>
<path d="M1272.3 534.5 L1272.3 525.5 L1272.4 512.4 L1272.5 499.2 L1272.7 486.6 L1272.9 473.8 L1273.1 462.2 L1273.4 452.2 L1273.7 443.4 L1274 436.1 L1274.3 430.7 L1274.7 426.9 L1275.3 422.8 L1276.1 417.7 L1277 412.3 L1278.2 407.2 L1279.7 402.6 L1281.5 398.2 L1283.5 394.1 L1285.8 390.2 L1288.3 386.5 L1291.2 382.9 L1294.6 379.4 L1298.5 376.1 L1302.3 373.1 L1305.6 370.7 L1308.9 368.7 L1313.4 366.4 L1320 363.2 L1327.7 359.7 L1335.5 356.4 L1343.2 353.6 L1351 351 L1357.6 348.6 L1362 346.9 L1365.3 345.4 L1370 343.1 L1377.5 339.5 L1386.4 335.2 L1394.4 330.9 L1400.9 326.9 L1406.6 323 L1411.6 319.1 L1415.5 315.1 L1418.7 311 L1422.4 306.1 L1427.1 300 L1432.2 293.1 L1437.4 286.9 L1442.4 281.8 L1447.4 277.2 L1452.4 272.9 L1457.8 268.1 L1463.2 263.4 L1467.5 259.9 L1469.8 258.5 L1470.9 258.3 L1472 258.1 L1473.3 257.5 L1474.5 256.8 L1476 255.6 L1477.8 253.6 L1479.9 251 L1482 248.2 L1484.4 245.2 L1486.8 242.1 L1488.9 239.6 L1490.3 238.1 L1491.4 237.4 L1492.5 236.8 L1493.8 236.1 L1495.1 235.5 L1496.5 235.2 L1497.9 235.3 L1499.4 235.7 L1501 235.8 L1502.7 235.8 L1504.5 235.6 L1506.1 235.2 L1507.2 234.5 L1508.1 233.6 L1509 232.7 L1510.2 231.7 L1511.4 230.7 L1512.6 229.9 L1513.7 229.7 L1514.8 229.7 L1516 229.4 L1517.3 228.6 L1518.6 227.4 L1520 226.6 L1521.3 226.2 L1522.7 226.1 L1524 225.8 L1525.2 225.1 L1526.4 224.2 L1527.6 223.4 L1528.7 223 L1529.9 222.6 L1531 222.1 L1532.1 221.1 L1533.3 219.9 L1534.5 218.8 L1535.8 218.2 L1537.1 217.7 L1538.3 217.1 L1539.2 215.9 L1540.1 214.6 L1541 213.4 L1542.2 212.7 L1543.5 212.2 L1544.8 211.7 L1546.1 210.9 L1547.5 210.1 L1549 209.1 L1550.7 207.7 L1552.5 206.1 L1555 204.2 L1558.4 201.9 L1562.4 199.3 L1566.3 196.7 L1569.9 194.1 L1573.5 191.5 L1577 188.8 L1580.7 186.1 L1584.4 183.3 L1587.7 180.6 L1590.3 178.1 L1592.4 175.7 L1594.5 173.2 L1596.5 170.9 L1598.4 168.5 L1600.6 165.4 L1603.4 161.1 L1606.4 156.1 L1609.2 151.6 L1611.6 147.6 L1613.7 144.2 L1615.2 141.8" fill="none" stroke="#0567ab" stroke-width="4.6" stroke-linecap="round" stroke-linejoin="round"/>
<path d="M1272.3 536 L1272.3 527 L1272.4 513.9 L1272.5 500.8 L1272.7 488.1 L1272.9 475.3 L1273.1 463.8 L1273.4 453.7 L1273.7 444.9 L1274 437.6 L1274.3 432.2 L1274.7 428.4 L1275.3 424.2 L1276.1 419.2 L1277 413.8 L1278.2 408.8 L1279.7 404.1 L1281.5 399.7 L1283.5 395.6 L1285.8 391.7 L1288.3 388 L1291.2 384.4 L1294.6 380.9 L1298.5 377.6 L1302.3 374.6 L1305.6 372.2 L1308.9 370.2 L1313.4 367.9 L1320 364.7 L1327.7 361.2 L1335.5 357.9 L1343.2 355.1 L1351 352.5 L1357.6 350.1 L1362 348.4 L1365.3 346.9 L1370 344.6 L1377.5 341 L1386.4 336.7 L1394.4 332.4 L1400.9 328.4 L1406.6 324.5 L1411.6 320.6 L1415.5 316.6 L1418.7 312.5 L1422.4 307.6 L1427.1 301.5 L1432.2 294.6 L1437.4 288.4 L1442.4 283.2 L1447.4 278.7 L1452.4 274.4 L1457.8 269.6 L1463.2 264.9 L1467.5 261.4 L1469.8 260 L1470.9 259.8 L1472 259.6 L1473.3 259 L1474.5 258.3 L1476 257.1 L1477.8 255.1 L1479.9 252.5 L1482 249.8 L1484.4 246.7 L1486.8 243.6 L1488.9 241.1 L1490.3 239.6 L1491.4 238.9 L1492.5 238.2 L1493.8 237.6 L1495.1 237 L1496.5 236.8 L1497.9 236.8 L1499.4 237.2 L1501 237.3 L1502.7 237.3 L1504.5 237.1 L1506.1 236.8 L1507.2 236 L1508.1 235.1 L1509 234.2 L1510.2 233.2 L1511.4 232.2 L1512.6 231.4 L1513.7 231.2 L1514.8 231.2 L1516 230.9 L1517.3 230.1 L1518.6 228.9 L1520 228.1 L1521.3 227.7 L1522.7 227.6 L1524 227.2 L1525.2 226.6 L1526.4 225.7 L1527.6 224.9 L1528.7 224.5 L1529.9 224.1 L1531 223.6 L1532.1 222.6 L1533.3 221.4 L1534.5 220.3 L1535.8 219.7 L1537.1 219.2 L1538.3 218.6 L1539.2 217.4 L1540.1 216.1 L1541 214.9 L1542.2 214.2 L1543.5 213.7 L1544.8 213.2 L1546.1 212.4 L1547.5 211.6 L1549 210.6 L1550.7 209.2 L1552.5 207.6 L1555 205.8 L1558.4 203.4 L1562.4 200.8 L1566.3 198.2 L1569.9 195.6 L1573.5 193 L1577 190.3 L1580.7 187.6 L1584.4 184.8 L1587.7 182.1 L1590.3 179.6 L1592.4 177.2 L1594.5 174.8 L1596.5 172.4 L1598.4 170 L1600.6 166.9 L1603.4 162.6 L1606.4 157.6 L1609.2 153.1 L1611.6 149.1 L1613.7 145.7 L1615.2 143.3" fill="none" stroke="#0567ab" stroke-width="4.6" stroke-linecap="round" stroke-linejoin="round"/>
<path d="M1615.2 141.8 L1614.7 141.3 L1614 140.5 L1613.2 139.7 L1612.3 138.8 L1611.5 138.1 L1610.7 137.5 L1609.9 136.9 L1609 136.4 L1608.1 136 L1607.1 135.4 L1606 134.9 L1604.8 134.4 L1603.6 133.8 L1602.3 133.3 L1601 132.8 L1599.7 132.4 L1598.4 132.1 L1597.1 131.7 L1595.7 131.4 L1594.2 131.2 L1592.7 130.9 L1591.1 130.6 L1589.4 130.4 L1587.7 130.2 L1586 130.1 L1584.3 129.9 L1582.7 129.8 L1581.1 129.7 L1579.2 129.7 L1577 129.7 L1574.3 129.6 L1571.1 129.6 L1567.9 129.6 L1564.7 129.6 L1562 129.7 L1559.8 129.8 L1557.9 129.9 L1556.3 130.1 L1554.7 130.2 L1553 130.4 L1551.4 130.6 L1550 130.8 L1548.5 131 L1546.9 131.3 L1544.8 131.8 L1542.3 132.3 L1539.4 133 L1536.2 133.7 L1533 134.6 L1529.7 135.4 L1526.4 136.4 L1522.9 137.4 L1519.4 138.5 L1515.9 139.6 L1512.6 140.8 L1509.5 141.9 L1506.4 143.1 L1503.4 144.3 L1500.5 145.6 L1497.5 146.8 L1494.5 148.1 L1491.4 149.4 L1488.3 150.8 L1485.4 152.2 L1482.5 153.7 L1479.8 155.3 L1477.1 157 L1474.5 158.7 L1472 160.5 L1469.6 162.2 L1467.3 163.9 L1465.2 165.6 L1463.1 167.3 L1461 169 L1458.9 170.8 L1456.7 172.9 L1454.6 175 L1452.4 177.2 L1450.3 179.5 L1448.1 181.7 L1446 183.8 L1443.8 185.9 L1441.7 188.1 L1439.5 190.2 L1437.4 192.3 L1435.2 194.5 L1433.1 196.6 L1430.9 198.7 L1428.8 200.8 L1426.6 203.1 L1424.5 205.4 L1422.3 207.8 L1420.2 210.2 L1418 212.6 L1415.9 214.8 L1413.8 217 L1411.6 219 L1409.5 220.9 L1407.3 222.8 L1405.2 224.6 L1403.2 226.1 L1401.4 227.4 L1399.5 228.7 L1397.2 230.2 L1394.4 232.1 L1390.8 234.5 L1386.6 237.2 L1382.1 240.2 L1377.5 243.2 L1373 246.1 L1368.6 248.8 L1364.1 251.5 L1359.7 254.1 L1355.4 256.6 L1351.5 258.9 L1348 261 L1345 262.8 L1342.1 264.5 L1339 266.2 L1335.5 268.2 L1331.3 270.6 L1326.7 273.2 L1321.9 275.9 L1317.4 278.4 L1313.4 280.6 L1310 282.7 L1306.8 284.6 L1304 286.2 L1301.8 287.6 L1300.1 288.6" fill="none" stroke="#0567ab" stroke-width="4.6" stroke-linecap="round" stroke-linejoin="round"/>
<path d="M1615.2 143.3 L1614.7 142.8 L1614 142 L1613.2 141.2 L1612.3 140.3 L1611.5 139.6 L1610.7 139 L1609.9 138.4 L1609 137.9 L1608.1 137.5 L1607.1 136.9 L1606 136.4 L1604.8 135.9 L1603.6 135.3 L1602.3 134.8 L1601 134.3 L1599.7 133.9 L1598.4 133.6 L1597.1 133.2 L1595.7 132.9 L1594.2 132.7 L1592.7 132.4 L1591.1 132.1 L1589.4 131.9 L1587.7 131.7 L1586 131.6 L1584.3 131.4 L1582.7 131.3 L1581.1 131.2 L1579.2 131.2 L1577 131.2 L1574.3 131.1 L1571.1 131.1 L1567.9 131.1 L1564.7 131.1 L1562 131.2 L1559.8 131.3 L1557.9 131.4 L1556.3 131.6 L1554.7 131.7 L1553 131.9 L1551.4 132.1 L1550 132.3 L1548.5 132.5 L1546.9 132.8 L1544.8 133.2 L1542.3 133.8 L1539.4 134.5 L1536.2 135.2 L1533 136.1 L1529.7 136.9 L1526.4 137.9 L1522.9 138.9 L1519.4 140 L1515.9 141.1 L1512.6 142.2 L1509.5 143.4 L1506.4 144.6 L1503.4 145.8 L1500.5 147.1 L1497.5 148.3 L1494.5 149.6 L1491.4 150.9 L1488.3 152.3 L1485.4 153.7 L1482.5 155.2 L1479.8 156.8 L1477.1 158.5 L1474.5 160.2 L1472 162 L1469.6 163.8 L1467.3 165.4 L1465.2 167.1 L1463.1 168.8 L1461 170.5 L1458.9 172.3 L1456.7 174.4 L1454.6 176.5 L1452.4 178.7 L1450.3 181 L1448.1 183.2 L1446 185.3 L1443.8 187.4 L1441.7 189.6 L1439.5 191.7 L1437.4 193.8 L1435.2 196 L1433.1 198.1 L1430.9 200.2 L1428.8 202.3 L1426.6 204.6 L1424.5 206.9 L1422.3 209.3 L1420.2 211.7 L1418 214.1 L1415.9 216.3 L1413.8 218.5 L1411.6 220.5 L1409.5 222.4 L1407.3 224.3 L1405.2 226.1 L1403.2 227.6 L1401.4 228.9 L1399.5 230.2 L1397.2 231.7 L1394.4 233.6 L1390.8 236 L1386.6 238.7 L1382.1 241.7 L1377.5 244.7 L1373 247.6 L1368.6 250.3 L1364.1 253 L1359.7 255.6 L1355.4 258.1 L1351.5 260.4 L1348 262.5 L1345 264.3 L1342.1 266 L1339 267.7 L1335.5 269.8 L1331.3 272.1 L1326.7 274.7 L1321.9 277.4 L1317.4 279.9 L1313.4 282.1 L1310 284.2 L1306.8 286.1 L1304 287.7 L1301.8 289.1 L1300.1 290.1" fill="none" stroke="#0567ab" stroke-width="4.6" stroke-linecap="round" stroke-linejoin="round"/>
</g>
<path d="M1138.1 318.9 L1184.5 343.5 M1165.1 341 L1184.5 343.5 L1171.5 328.8" fill="none" stroke="#000" stroke-width="2.5" stroke-linecap="butt" stroke-linejoin="miter"/>
<path d="M1255 473.3 L1255 524.3 M1248.1 506 L1255 524.3 L1261.9 506" fill="none" stroke="#000" stroke-width="2.5" stroke-linecap="butt" stroke-linejoin="miter"/>
<path d="M1289 527.5 L1289 476.5 M1295.9 494.8 L1289 476.5 L1282.1 494.8" fill="none" stroke="#000" stroke-width="2.5" stroke-linecap="butt" stroke-linejoin="miter"/>
<path d="M1351.5 373.5 L1402.6 355.8 M1387.5 368.3 L1402.6 355.8 L1383 355.3" fill="none" stroke="#000" stroke-width="2.5" stroke-linecap="butt" stroke-linejoin="miter"/>
<path d="M1484.6 283.9 L1528.9 254.4 M1517.4 270.3 L1528.9 254.4 L1509.8 258.8" fill="none" stroke="#000" stroke-width="2.5" stroke-linecap="butt" stroke-linejoin="miter"/>
<path d="M1454.6 145.4 L1418.1 183.7 M1425.8 165.7 L1418.1 183.7 L1435.7 175.2" fill="none" stroke="#000" stroke-width="2.5" stroke-linecap="butt" stroke-linejoin="miter"/>
<rect x="1082.8" y="65" width="689" height="544.4" fill="none" stroke="#000" stroke-width="2.3"/>
<text transform="translate(1058.5 81.5) scale(1 1.04)" font-size="43.3" text-anchor="end">10<tspan font-size="27.6" dy="-17.6">2</tspan></text>
<text transform="translate(1058.5 142) scale(1 1.04)" font-size="43.3" text-anchor="end">10<tspan font-size="27.6" dy="-17.6">1</tspan></text>
<text transform="translate(1058.5 202.5) scale(1 1.04)" font-size="43.3" text-anchor="end">10<tspan font-size="27.6" dy="-17.6">0</tspan></text>
<text transform="translate(1058.5 263) scale(1 1.04)" font-size="43.3" text-anchor="end">10<tspan font-size="27.6" dy="-17.6">-1</tspan></text>
<text transform="translate(1058.5 323.5) scale(1 1.04)" font-size="43.3" text-anchor="end">10<tspan font-size="27.6" dy="-17.6">-2</tspan></text>
<text transform="translate(1058.5 383.9) scale(1 1.04)" font-size="43.3" text-anchor="end">10<tspan font-size="27.6" dy="-17.6">-3</tspan></text>
<text transform="translate(1058.5 444.4) scale(1 1.04)" font-size="43.3" text-anchor="end">10<tspan font-size="27.6" dy="-17.6">-4</tspan></text>
<text transform="translate(1058.5 504.9) scale(1 1.04)" font-size="43.3" text-anchor="end">10<tspan font-size="27.6" dy="-17.6">-5</tspan></text>
<text transform="translate(1058.5 565.4) scale(1 1.04)" font-size="43.3" text-anchor="end">10<tspan font-size="27.6" dy="-17.6">-6</tspan></text>
<text transform="translate(1058.5 625.9) scale(1 1.04)" font-size="43.3" text-anchor="end">10<tspan font-size="27.6" dy="-17.6">-7</tspan></text>
<text transform="translate(1082.8 667.7) scale(1 1.04)" font-size="43.3" text-anchor="middle">-0.6</text>
<text transform="translate(1220.6 667.7) scale(1 1.04)" font-size="43.3" text-anchor="middle">-0.4</text>
<text transform="translate(1358.4 667.7) scale(1 1.04)" font-size="43.3" text-anchor="middle">-0.2</text>
<text transform="translate(1496.2 667.7) scale(1 1.04)" font-size="43.3" text-anchor="middle">0.0</text>
<text transform="translate(1634 667.7) scale(1 1.04)" font-size="43.3" text-anchor="middle">0.2</text>
<text transform="translate(1771.8 667.7) scale(1 1.04)" font-size="43.3" text-anchor="middle">0.4</text>
<text transform="translate(1427.3 740.7) scale(1 1.04)" font-size="43.3" text-anchor="middle">Potential, <tspan font-style="italic">E</tspan> (V vs. Ag/AgCl)</text>
<text transform="translate(964.2 336.1) rotate(-90) scale(1 1.04)" font-size="43.3" text-anchor="middle">Current density, <tspan font-style="italic">I</tspan> (mA cm<tspan font-size="31" dy="-16.7" dx="1.3">−2</tspan><tspan dy="16.7" dx="0.9">)</tspan></text>
<text x="919.9" y="37.4" font-size="52" font-weight="bold">(b)</text>
</g>
<g id="panel-c">
<path d="M192.1 1396.2L192.1 1382.5M192.1 851.7L192.1 865.4M226.6 1396.2L226.6 1382.5M226.6 851.7L226.6 865.4M261 1396.2L261 1382.5M261 851.7L261 865.4M295.5 1396.2L295.5 1374.2M295.5 851.7L295.5 873.7M329.9 1396.2L329.9 1382.5M329.9 851.7L329.9 865.4M364.4 1396.2L364.4 1382.5M364.4 851.7L364.4 865.4M398.9 1396.2L398.9 1382.5M398.9 851.7L398.9 865.4M433.3 1396.2L433.3 1374.2M433.3 851.7L433.3 873.7M467.8 1396.2L467.8 1382.5M467.8 851.7L467.8 865.4M502.2 1396.2L502.2 1382.5M502.2 851.7L502.2 865.4M536.6 1396.2L536.6 1382.5M536.6 851.7L536.6 865.4M571.1 1396.2L571.1 1374.2M571.1 851.7L571.1 873.7M605.5 1396.2L605.5 1382.5M605.5 851.7L605.5 865.4M640 1396.2L640 1382.5M640 851.7L640 865.4M674.5 1396.2L674.5 1382.5M674.5 851.7L674.5 865.4M708.9 1396.2L708.9 1374.2M708.9 851.7L708.9 873.7M743.3 1396.2L743.3 1382.5M743.3 851.7L743.3 865.4M777.8 1396.2L777.8 1382.5M777.8 851.7L777.8 865.4M812.2 1396.2L812.2 1382.5M812.2 851.7L812.2 865.4" stroke="#000" stroke-width="2.3" fill="none"/>
<path d="M157.7 1378L171.4 1378M846.7 1378L833 1378M157.7 1367.3L171.4 1367.3M846.7 1367.3L833 1367.3M157.7 1359.8L171.4 1359.8M846.7 1359.8L833 1359.8M157.7 1353.9L171.4 1353.9M846.7 1353.9L833 1353.9M157.7 1349.1L171.4 1349.1M846.7 1349.1L833 1349.1M157.7 1345.1L171.4 1345.1M846.7 1345.1L833 1345.1M157.7 1341.6L171.4 1341.6M846.7 1341.6L833 1341.6M157.7 1338.5L171.4 1338.5M846.7 1338.5L833 1338.5M157.7 1335.7L179.7 1335.7M846.7 1335.7L824.7 1335.7M157.7 1317.5L171.4 1317.5M846.7 1317.5L833 1317.5M157.7 1306.8L171.4 1306.8M846.7 1306.8L833 1306.8M157.7 1299.3L171.4 1299.3M846.7 1299.3L833 1299.3M157.7 1293.4L171.4 1293.4M846.7 1293.4L833 1293.4M157.7 1288.6L171.4 1288.6M846.7 1288.6L833 1288.6M157.7 1284.6L171.4 1284.6M846.7 1284.6L833 1284.6M157.7 1281.1L171.4 1281.1M846.7 1281.1L833 1281.1M157.7 1278L171.4 1278M846.7 1278L833 1278M157.7 1275.2L179.7 1275.2M846.7 1275.2L824.7 1275.2M157.7 1257L171.4 1257M846.7 1257L833 1257M157.7 1246.3L171.4 1246.3M846.7 1246.3L833 1246.3M157.7 1238.8L171.4 1238.8M846.7 1238.8L833 1238.8M157.7 1232.9L171.4 1232.9M846.7 1232.9L833 1232.9M157.7 1228.1L171.4 1228.1M846.7 1228.1L833 1228.1M157.7 1224.1L171.4 1224.1M846.7 1224.1L833 1224.1M157.7 1220.6L171.4 1220.6M846.7 1220.6L833 1220.6M157.7 1217.5L171.4 1217.5M846.7 1217.5L833 1217.5M157.7 1214.7L179.7 1214.7M846.7 1214.7L824.7 1214.7M157.7 1196.5L171.4 1196.5M846.7 1196.5L833 1196.5M157.7 1185.8L171.4 1185.8M846.7 1185.8L833 1185.8M157.7 1178.3L171.4 1178.3M846.7 1178.3L833 1178.3M157.7 1172.4L171.4 1172.4M846.7 1172.4L833 1172.4M157.7 1167.6L171.4 1167.6M846.7 1167.6L833 1167.6M157.7 1163.6L171.4 1163.6M846.7 1163.6L833 1163.6M157.7 1160.1L171.4 1160.1M846.7 1160.1L833 1160.1M157.7 1157L171.4 1157M846.7 1157L833 1157M157.7 1154.2L179.7 1154.2M846.7 1154.2L824.7 1154.2M157.7 1136L171.4 1136M846.7 1136L833 1136M157.7 1125.3L171.4 1125.3M846.7 1125.3L833 1125.3M157.7 1117.8L171.4 1117.8M846.7 1117.8L833 1117.8M157.7 1111.9L171.4 1111.9M846.7 1111.9L833 1111.9M157.7 1107.1L171.4 1107.1M846.7 1107.1L833 1107.1M157.7 1103.1L171.4 1103.1M846.7 1103.1L833 1103.1M157.7 1099.6L171.4 1099.6M846.7 1099.6L833 1099.6M157.7 1096.5L171.4 1096.5M846.7 1096.5L833 1096.5M157.7 1093.7L179.7 1093.7M846.7 1093.7L824.7 1093.7M157.7 1075.5L171.4 1075.5M846.7 1075.5L833 1075.5M157.7 1064.8L171.4 1064.8M846.7 1064.8L833 1064.8M157.7 1057.3L171.4 1057.3M846.7 1057.3L833 1057.3M157.7 1051.4L171.4 1051.4M846.7 1051.4L833 1051.4M157.7 1046.6L171.4 1046.6M846.7 1046.6L833 1046.6M157.7 1042.6L171.4 1042.6M846.7 1042.6L833 1042.6M157.7 1039.1L171.4 1039.1M846.7 1039.1L833 1039.1M157.7 1036L171.4 1036M846.7 1036L833 1036M157.7 1033.2L179.7 1033.2M846.7 1033.2L824.7 1033.2M157.7 1015L171.4 1015M846.7 1015L833 1015M157.7 1004.3L171.4 1004.3M846.7 1004.3L833 1004.3M157.7 996.8L171.4 996.8M846.7 996.8L833 996.8M157.7 990.9L171.4 990.9M846.7 990.9L833 990.9M157.7 986.1L171.4 986.1M846.7 986.1L833 986.1M157.7 982.1L171.4 982.1M846.7 982.1L833 982.1M157.7 978.6L171.4 978.6M846.7 978.6L833 978.6M157.7 975.5L171.4 975.5M846.7 975.5L833 975.5M157.7 972.7L179.7 972.7M846.7 972.7L824.7 972.7M157.7 954.5L171.4 954.5M846.7 954.5L833 954.5M157.7 943.8L171.4 943.8M846.7 943.8L833 943.8M157.7 936.3L171.4 936.3M846.7 936.3L833 936.3M157.7 930.4L171.4 930.4M846.7 930.4L833 930.4M157.7 925.6L171.4 925.6M846.7 925.6L833 925.6M157.7 921.6L171.4 921.6M846.7 921.6L833 921.6M157.7 918.1L171.4 918.1M846.7 918.1L833 918.1M157.7 915L171.4 915M846.7 915L833 915M157.7 912.2L179.7 912.2M846.7 912.2L824.7 912.2M157.7 894L171.4 894M846.7 894L833 894M157.7 883.3L171.4 883.3M846.7 883.3L833 883.3M157.7 875.8L171.4 875.8M846.7 875.8L833 875.8M157.7 869.9L171.4 869.9M846.7 869.9L833 869.9M157.7 865.1L171.4 865.1M846.7 865.1L833 865.1M157.7 861.1L171.4 861.1M846.7 861.1L833 861.1M157.7 857.6L171.4 857.6M846.7 857.6L833 857.6M157.7 854.5L171.4 854.5M846.7 854.5L833 854.5" stroke="#000" stroke-width="2.3" fill="none"/>
<g clip-path="url(#cc)">
<path d="M307.5 1098.3 L307.9 1098.9 L308.4 1099.6 L309.1 1100.5 L309.8 1101.4 L310.5 1102.2 L311.2 1103.1 L311.9 1103.9 L312.6 1104.7 L313.5 1105.6 L314.4 1106.5 L315.5 1107.5 L316.6 1108.6 L317.9 1109.7 L319.2 1110.8 L320.5 1111.8 L321.7 1112.8 L322.7 1113.7 L323.8 1114.6 L325.3 1115.8 L327.3 1117.2 L330 1119.1 L333.2 1121.4 L336.7 1123.8 L340.5 1126.4 L344.4 1129 L348.4 1131.8 L352.7 1134.8 L357.1 1137.8 L361.5 1140.9 L365.9 1144 L370.3 1147.2 L374.7 1150.5 L379.1 1153.7 L383.4 1157 L387.4 1160.2 L391.2 1163.3 L394.8 1166.3 L398.2 1169.3 L401.5 1172.3 L404.6 1175.2 L407.5 1178.1 L410.2 1180.8 L412.7 1183.5 L415.1 1186.2 L417.5 1189.2 L419.8 1192.2 L422.1 1195.5 L424.3 1198.8 L426.4 1202.1 L428.2 1205.2 L429.8 1208.3 L431.2 1211.3 L432.4 1214.2 L433.5 1217.2 L434.6 1220.3 L435.6 1223.6 L436.6 1227 L437.4 1230.4 L438.2 1233.9 L438.9 1237.5 L439.5 1241.1 L440 1244.7 L440.4 1248.4 L440.8 1252.4 L441.1 1256.8 L441.4 1261.6 L441.7 1266.6 L441.9 1272 L442 1278 L442.2 1284.8 L442.3 1292.7 L442.4 1301.6 L442.5 1310.9 L442.6 1320.3 L442.6 1329.2 L442.6 1338.2 L442.7 1347.6 L442.7 1356.6 L442.7 1364.2 L442.7 1369.7" fill="none" stroke="#008484" stroke-width="4.6" stroke-linecap="round" stroke-linejoin="round"/>
<path d="M307.5 1099.8 L307.9 1100.4 L308.4 1101.1 L309.1 1102 L309.8 1102.9 L310.5 1103.8 L311.2 1104.6 L311.9 1105.4 L312.6 1106.2 L313.5 1107.1 L314.4 1108 L315.5 1109 L316.6 1110.1 L317.9 1111.2 L319.2 1112.3 L320.5 1113.3 L321.7 1114.3 L322.7 1115.2 L323.8 1116.1 L325.3 1117.3 L327.3 1118.8 L330 1120.6 L333.2 1122.9 L336.7 1125.3 L340.5 1127.9 L344.4 1130.5 L348.4 1133.3 L352.7 1136.3 L357.1 1139.3 L361.5 1142.4 L365.9 1145.5 L370.3 1148.7 L374.7 1152 L379.1 1155.2 L383.4 1158.5 L387.4 1161.7 L391.2 1164.8 L394.8 1167.8 L398.2 1170.8 L401.5 1173.8 L404.6 1176.8 L407.5 1179.6 L410.2 1182.3 L412.7 1185 L415.1 1187.7 L417.5 1190.7 L419.8 1193.7 L422.1 1197 L424.3 1200.3 L426.4 1203.6 L428.2 1206.8 L429.8 1209.8 L431.2 1212.8 L432.4 1215.7 L433.5 1218.7 L434.6 1221.8 L435.6 1225.1 L436.6 1228.5 L437.4 1231.9 L438.2 1235.4 L438.9 1239 L439.5 1242.6 L440 1246.2 L440.4 1249.9 L440.8 1253.9 L441.1 1258.3 L441.4 1263.1 L441.7 1268.1 L441.9 1273.5 L442 1279.5 L442.2 1286.2 L442.3 1294.2 L442.4 1303.1 L442.5 1312.4 L442.6 1321.8 L442.6 1330.8 L442.6 1339.7 L442.7 1349.1 L442.7 1358.1 L442.7 1365.7 L442.7 1371.2" fill="none" stroke="#008484" stroke-width="4.6" stroke-linecap="round" stroke-linejoin="round"/>
<path d="M442.7 1369.7 L442.7 1362.5 L442.8 1352.3 L442.8 1340.6 L442.9 1329.2 L443 1317.9 L443 1305.9 L443.1 1294.4 L443.2 1284.2 L443.3 1276 L443.4 1268.9 L443.6 1262.7 L443.9 1256.8 L444.4 1251.4 L445 1246.4 L445.7 1241.9 L446.5 1237.5 L447.4 1233.5 L448.3 1229.7 L449.4 1226.1 L450.7 1222.5 L452.3 1218.6 L454.1 1214.7 L456.1 1211 L458.3 1207.5 L460.7 1204.2 L463.2 1201.2 L466 1198.3 L469 1195.7 L472.3 1193.2 L475.8 1191.1 L479.7 1189 L484 1187 L488.7 1185.1 L493.7 1183.2 L499.2 1181.3 L505.5 1179.5 L512.8 1177.9 L520.9 1176.2 L529.4 1174.7 L537.7 1173 L546.3 1171.3 L555.4 1169.5 L563.6 1167.8 L569.9 1166.5 L572.8 1166 L573.3 1165.9 L573.8 1165.7 L576.7 1165 L582.7 1163.6 L590.5 1161.8 L599.5 1159.6 L608.9 1157.3 L619.2 1154.8 L630.4 1152 L641.7 1149.2 L651.8 1146.7 L661.1 1144.3 L669.9 1142.1 L677.3 1140.3 L682.6 1139 L683.4 1119.2 L684 1099.2 L684.7 1086.5 L685.4 1099.2 L686 1119.2 L686.6 1137.8 L690 1137.5 L692 1135.7 L696 1135 L703.4 1132.7 L709.6 1129.5 L710.2 1123.2 L710.9 1120.8 L711.8 1123.2 L712.8 1127.8 L714 1123.2 L715.2 1122 L716 1124.2 L716.6 1127.3 L720 1126.8 L722.3 1126.2 L723.2 1117.2 L723.3 1115.5 L723.4 1113 L723.6 1109.6 L723.8 1104.8 L724 1098.1 L724.2 1089.9 L724.5 1081.1 L724.8 1072.5 L725.2 1064.4 L725.7 1056.2 L726.3 1048.1 L727 1040.3 L727.9 1032.9 L728.9 1025.7 L730 1018.9 L731.3 1012.5 L732.7 1006.7 L734.2 1001.4 L735.9 996.3 L737.7 991 L739.7 985 L741.9 978.9 L744.1 972.8 L746.3 967.4 L748.4 962.5 L750.6 958.2 L752.7 954.1 L754.9 950.1 L757.1 946.2 L759.3 942.5 L761.5 939 L763.5 936.1 L765.4 933.9 L767.3 932.1 L768.9 930.7 L770 929.8" fill="none" stroke="#008484" stroke-width="4.6" stroke-linecap="round" stroke-linejoin="round"/>
<path d="M442.7 1371.2 L442.7 1364 L442.8 1353.8 L442.8 1342.1 L442.9 1330.8 L443 1319.4 L443 1307.4 L443.1 1295.9 L443.2 1285.8 L443.3 1277.5 L443.4 1270.4 L443.6 1264.2 L443.9 1258.3 L444.4 1252.9 L445 1247.9 L445.7 1243.4 L446.5 1239 L447.4 1235 L448.3 1231.2 L449.4 1227.6 L450.7 1224 L452.3 1220.1 L454.1 1216.2 L456.1 1212.5 L458.3 1209 L460.7 1205.7 L463.2 1202.7 L466 1199.8 L469 1197.2 L472.3 1194.7 L475.8 1192.6 L479.7 1190.5 L484 1188.5 L488.7 1186.6 L493.7 1184.7 L499.2 1182.8 L505.5 1181 L512.8 1179.4 L520.9 1177.7 L529.4 1176.2 L537.7 1174.5 L546.3 1172.8 L555.4 1171 L563.6 1169.3 L569.9 1168 L572.8 1167.5 L573.3 1167.4 L573.8 1167.2 L576.7 1166.5 L582.7 1165.1 L590.5 1163.3 L599.5 1161.1 L608.9 1158.8 L619.2 1156.3 L630.4 1153.5 L641.7 1150.7 L651.8 1148.2 L661.1 1145.8 L669.9 1143.6 L677.3 1141.8 L682.6 1140.5 L683.4 1120.8 L684 1100.8 L684.7 1088 L685.4 1100.8 L686 1120.8 L686.6 1139.3 L690 1139 L692 1137.2 L696 1136.5 L703.4 1134.2 L709.6 1131 L710.2 1124.8 L710.9 1122.3 L711.8 1124.8 L712.8 1129.3 L714 1124.8 L715.2 1123.5 L716 1125.8 L716.6 1128.8 L720 1128.3 L722.3 1127.8 L723.2 1118.8 L723.3 1117 L723.4 1114.5 L723.6 1111.1 L723.8 1106.2 L724 1099.6 L724.2 1091.4 L724.5 1082.6 L724.8 1074 L725.2 1065.9 L725.7 1057.7 L726.3 1049.6 L727 1041.8 L727.9 1034.4 L728.9 1027.2 L730 1020.4 L731.3 1014 L732.7 1008.2 L734.2 1002.9 L735.9 997.8 L737.7 992.5 L739.7 986.5 L741.9 980.4 L744.1 974.3 L746.3 968.9 L748.4 964 L750.6 959.7 L752.7 955.6 L754.9 951.6 L757.1 947.7 L759.3 944 L761.5 940.5 L763.5 937.6 L765.4 935.4 L767.3 933.6 L768.9 932.2 L770 931.2" fill="none" stroke="#008484" stroke-width="4.6" stroke-linecap="round" stroke-linejoin="round"/>
<path d="M770 929.8 L769.3 929.2 L768.4 928.4 L767.3 927.5 L766.1 926.6 L765 925.9 L763.9 925.2 L762.8 924.7 L761.7 924.2 L760.5 923.7 L759.2 923.2 L757.9 922.8 L756.4 922.4 L755 922.1 L753.5 921.7 L752 921.5 L750.6 921.2 L749.4 920.9 L748 920.7 L746.4 920.6 L744.2 920.5 L741.3 920.4 L737.7 920.3 L733.9 920.3 L730.2 920.4 L727 920.5 L724.4 920.6 L722.1 920.7 L720.1 920.9 L718.1 921.2 L716 921.5 L714 921.7 L712.3 922 L710.5 922.3 L708.3 922.7 L705.5 923.2 L701.9 924 L697.7 924.9 L693.1 925.9 L688.5 927 L684 928.2 L679.7 929.6 L675.3 931.1 L671 932.6 L666.8 934.3 L662.6 936.1 L658.6 938.1 L654.6 940.2 L650.7 942.3 L646.9 944.6 L643.2 947 L639.6 949.4 L636.2 952 L632.8 954.6 L629.4 957.2 L626 959.8 L622.5 962.2 L619 964.6 L615.4 967 L612 969.4 L608.9 971.6 L606.1 973.8 L603.4 975.8 L601 977.8 L598.5 980 L596 982.4 L593.4 985.1 L590.7 988 L588.1 991.1 L585.5 994.3 L583.1 997.4 L580.8 1000.3 L578.7 1003.3 L576.6 1006.3 L574.5 1009.3 L572.4 1012.5 L570.2 1015.7 L568 1019 L565.8 1022.4 L563.6 1026 L561.6 1029.5 L559.7 1033.3 L558 1037.1 L556.3 1041.1 L554.7 1045 L553 1049 L551.3 1052.9 L549.6 1056.8 L547.8 1060.7 L546.1 1064.5 L544.4 1068.2 L542.6 1071.9 L540.8 1075.6 L539.1 1079.2 L537.4 1082.5 L535.8 1085.5 L534.4 1087.9 L533.1 1090 L531.9 1091.9 L530.7 1093.7 L529.5 1095.8 L528.2 1097.9 L526.9 1100.2 L525.6 1102.5 L524.3 1104.7 L523 1107 L521.7 1109.2 L520.5 1111.4 L519.3 1113.5 L518.1 1115.7 L517 1117.8 L515.9 1119.9 L514.8 1122.1 L513.7 1124.3 L512.8 1126.1 L512.2 1127.3" fill="none" stroke="#008484" stroke-width="4.6" stroke-linecap="round" stroke-linejoin="round"/>
<path d="M770 931.2 L769.3 930.7 L768.4 929.9 L767.3 929 L766.1 928.1 L765 927.4 L763.9 926.7 L762.8 926.2 L761.7 925.7 L760.5 925.2 L759.2 924.8 L757.9 924.3 L756.4 923.9 L755 923.6 L753.5 923.2 L752 923 L750.6 922.7 L749.4 922.4 L748 922.2 L746.4 922.1 L744.2 922 L741.3 921.9 L737.7 921.8 L733.9 921.8 L730.2 921.9 L727 922 L724.4 922.1 L722.1 922.2 L720.1 922.4 L718.1 922.7 L716 923 L714 923.2 L712.3 923.5 L710.5 923.8 L708.3 924.2 L705.5 924.8 L701.9 925.5 L697.7 926.4 L693.1 927.4 L688.5 928.5 L684 929.8 L679.7 931.1 L675.3 932.6 L671 934.1 L666.8 935.8 L662.6 937.6 L658.6 939.6 L654.6 941.7 L650.7 943.8 L646.9 946.1 L643.2 948.5 L639.6 950.9 L636.2 953.5 L632.8 956.1 L629.4 958.7 L626 961.2 L622.5 963.7 L619 966.1 L615.4 968.5 L612 970.9 L608.9 973.1 L606.1 975.3 L603.4 977.3 L601 979.3 L598.5 981.5 L596 983.9 L593.4 986.6 L590.7 989.5 L588.1 992.6 L585.5 995.8 L583.1 998.9 L580.8 1001.8 L578.7 1004.8 L576.6 1007.8 L574.5 1010.8 L572.4 1014 L570.2 1017.2 L568 1020.5 L565.8 1023.9 L563.6 1027.5 L561.6 1031 L559.7 1034.8 L558 1038.6 L556.3 1042.6 L554.7 1046.5 L553 1050.5 L551.3 1054.4 L549.6 1058.3 L547.8 1062.2 L546.1 1066 L544.4 1069.8 L542.6 1073.4 L540.8 1077.1 L539.1 1080.7 L537.4 1084 L535.8 1087 L534.4 1089.4 L533.1 1091.5 L531.9 1093.4 L530.7 1095.2 L529.5 1097.2 L528.2 1099.4 L526.9 1101.7 L525.6 1104 L524.3 1106.2 L523 1108.5 L521.7 1110.7 L520.5 1112.9 L519.3 1115 L518.1 1117.2 L517 1119.2 L515.9 1121.4 L514.8 1123.6 L513.7 1125.8 L512.8 1127.6 L512.2 1128.8" fill="none" stroke="#008484" stroke-width="4.6" stroke-linecap="round" stroke-linejoin="round"/>
</g>
<path d="M334.8 1152.8 L382.1 1180.4 M362.7 1177.1 L382.1 1180.4 L369.7 1165.2" fill="none" stroke="#000" stroke-width="2.5" stroke-linecap="butt" stroke-linejoin="miter"/>
<path d="M426 1300.1 L426 1357.1 M419.1 1338.8 L426 1357.1 L432.9 1338.8" fill="none" stroke="#000" stroke-width="2.5" stroke-linecap="butt" stroke-linejoin="miter"/>
<path d="M460.4 1359.6 L460.4 1303.3 M467.3 1321.6 L460.4 1303.3 L453.5 1321.6" fill="none" stroke="#000" stroke-width="2.5" stroke-linecap="butt" stroke-linejoin="miter"/>
<path d="M524.5 1205.3 L577.5 1194.2 M560.9 1204.7 L577.5 1194.2 L558.1 1191.3" fill="none" stroke="#000" stroke-width="2.5" stroke-linecap="butt" stroke-linejoin="miter"/>
<path d="M743.1 1083 L747.7 1026.7 M753.1 1045.5 L747.7 1026.7 L739.4 1044.4" fill="none" stroke="#000" stroke-width="2.5" stroke-linecap="butt" stroke-linejoin="miter"/>
<path d="M649.2 913.3 L605.4 946.8 M615.8 930.2 L605.4 946.8 L624.2 941.1" fill="none" stroke="#000" stroke-width="2.5" stroke-linecap="butt" stroke-linejoin="miter"/>
<rect x="157.7" y="851.7" width="689" height="544.5" fill="none" stroke="#000" stroke-width="2.3"/>
<text transform="translate(133.4 868.2) scale(1 1.04)" font-size="43.3" text-anchor="end">10<tspan font-size="27.6" dy="-17.6">2</tspan></text>
<text transform="translate(133.4 928.7) scale(1 1.04)" font-size="43.3" text-anchor="end">10<tspan font-size="27.6" dy="-17.6">1</tspan></text>
<text transform="translate(133.4 989.2) scale(1 1.04)" font-size="43.3" text-anchor="end">10<tspan font-size="27.6" dy="-17.6">0</tspan></text>
<text transform="translate(133.4 1049.7) scale(1 1.04)" font-size="43.3" text-anchor="end">10<tspan font-size="27.6" dy="-17.6">-1</tspan></text>
<text transform="translate(133.4 1110.2) scale(1 1.04)" font-size="43.3" text-anchor="end">10<tspan font-size="27.6" dy="-17.6">-2</tspan></text>
<text transform="translate(133.4 1170.7) scale(1 1.04)" font-size="43.3" text-anchor="end">10<tspan font-size="27.6" dy="-17.6">-3</tspan></text>
<text transform="translate(133.4 1231.2) scale(1 1.04)" font-size="43.3" text-anchor="end">10<tspan font-size="27.6" dy="-17.6">-4</tspan></text>
<text transform="translate(133.4 1291.7) scale(1 1.04)" font-size="43.3" text-anchor="end">10<tspan font-size="27.6" dy="-17.6">-5</tspan></text>
<text transform="translate(133.4 1352.2) scale(1 1.04)" font-size="43.3" text-anchor="end">10<tspan font-size="27.6" dy="-17.6">-6</tspan></text>
<text transform="translate(133.4 1412.7) scale(1 1.04)" font-size="43.3" text-anchor="end">10<tspan font-size="27.6" dy="-17.6">-7</tspan></text>
<text transform="translate(157.7 1454.5) scale(1 1.04)" font-size="43.3" text-anchor="middle">-0.6</text>
<text transform="translate(295.5 1454.5) scale(1 1.04)" font-size="43.3" text-anchor="middle">-0.4</text>
<text transform="translate(433.3 1454.5) scale(1 1.04)" font-size="43.3" text-anchor="middle">-0.2</text>
<text transform="translate(571.1 1454.5) scale(1 1.04)" font-size="43.3" text-anchor="middle">0.0</text>
<text transform="translate(708.9 1454.5) scale(1 1.04)" font-size="43.3" text-anchor="middle">0.2</text>
<text transform="translate(846.7 1454.5) scale(1 1.04)" font-size="43.3" text-anchor="middle">0.4</text>
<text transform="translate(502.2 1527.5) scale(1 1.04)" font-size="43.3" text-anchor="middle">Potential, <tspan font-style="italic">E</tspan> (V vs. Ag/AgCl)</text>
<text transform="translate(39.1 1122.9) rotate(-90) scale(1 1.04)" font-size="43.3" text-anchor="middle">Current density, <tspan font-style="italic">I</tspan> (mA cm<tspan font-size="31" dy="-16.7" dx="1.3">−2</tspan><tspan dy="16.7" dx="0.9">)</tspan></text>
<text x="-2.3" y="824.1" font-size="52" font-weight="bold">(c)</text>
</g>
<g id="panel-d">
<path d="M1117.2 1396.2L1117.2 1382.5M1117.2 851.7L1117.2 865.4M1151.7 1396.2L1151.7 1382.5M1151.7 851.7L1151.7 865.4M1186.1 1396.2L1186.1 1382.5M1186.1 851.7L1186.1 865.4M1220.6 1396.2L1220.6 1374.2M1220.6 851.7L1220.6 873.7M1255 1396.2L1255 1382.5M1255 851.7L1255 865.4M1289.5 1396.2L1289.5 1382.5M1289.5 851.7L1289.5 865.4M1324 1396.2L1324 1382.5M1324 851.7L1324 865.4M1358.4 1396.2L1358.4 1374.2M1358.4 851.7L1358.4 873.7M1392.8 1396.2L1392.8 1382.5M1392.8 851.7L1392.8 865.4M1427.3 1396.2L1427.3 1382.5M1427.3 851.7L1427.3 865.4M1461.8 1396.2L1461.8 1382.5M1461.8 851.7L1461.8 865.4M1496.2 1396.2L1496.2 1374.2M1496.2 851.7L1496.2 873.7M1530.7 1396.2L1530.7 1382.5M1530.7 851.7L1530.7 865.4M1565.1 1396.2L1565.1 1382.5M1565.1 851.7L1565.1 865.4M1599.5 1396.2L1599.5 1382.5M1599.5 851.7L1599.5 865.4M1634 1396.2L1634 1374.2M1634 851.7L1634 873.7M1668.4 1396.2L1668.4 1382.5M1668.4 851.7L1668.4 865.4M1702.9 1396.2L1702.9 1382.5M1702.9 851.7L1702.9 865.4M1737.3 1396.2L1737.3 1382.5M1737.3 851.7L1737.3 865.4" stroke="#000" stroke-width="2.3" fill="none"/>
<path d="M1082.8 1378L1096.5 1378M1771.8 1378L1758.1 1378M1082.8 1367.3L1096.5 1367.3M1771.8 1367.3L1758.1 1367.3M1082.8 1359.8L1096.5 1359.8M1771.8 1359.8L1758.1 1359.8M1082.8 1353.9L1096.5 1353.9M1771.8 1353.9L1758.1 1353.9M1082.8 1349.1L1096.5 1349.1M1771.8 1349.1L1758.1 1349.1M1082.8 1345.1L1096.5 1345.1M1771.8 1345.1L1758.1 1345.1M1082.8 1341.6L1096.5 1341.6M1771.8 1341.6L1758.1 1341.6M1082.8 1338.5L1096.5 1338.5M1771.8 1338.5L1758.1 1338.5M1082.8 1335.7L1104.8 1335.7M1771.8 1335.7L1749.8 1335.7M1082.8 1317.5L1096.5 1317.5M1771.8 1317.5L1758.1 1317.5M1082.8 1306.8L1096.5 1306.8M1771.8 1306.8L1758.1 1306.8M1082.8 1299.3L1096.5 1299.3M1771.8 1299.3L1758.1 1299.3M1082.8 1293.4L1096.5 1293.4M1771.8 1293.4L1758.1 1293.4M1082.8 1288.6L1096.5 1288.6M1771.8 1288.6L1758.1 1288.6M1082.8 1284.6L1096.5 1284.6M1771.8 1284.6L1758.1 1284.6M1082.8 1281.1L1096.5 1281.1M1771.8 1281.1L1758.1 1281.1M1082.8 1278L1096.5 1278M1771.8 1278L1758.1 1278M1082.8 1275.2L1104.8 1275.2M1771.8 1275.2L1749.8 1275.2M1082.8 1257L1096.5 1257M1771.8 1257L1758.1 1257M1082.8 1246.3L1096.5 1246.3M1771.8 1246.3L1758.1 1246.3M1082.8 1238.8L1096.5 1238.8M1771.8 1238.8L1758.1 1238.8M1082.8 1232.9L1096.5 1232.9M1771.8 1232.9L1758.1 1232.9M1082.8 1228.1L1096.5 1228.1M1771.8 1228.1L1758.1 1228.1M1082.8 1224.1L1096.5 1224.1M1771.8 1224.1L1758.1 1224.1M1082.8 1220.6L1096.5 1220.6M1771.8 1220.6L1758.1 1220.6M1082.8 1217.5L1096.5 1217.5M1771.8 1217.5L1758.1 1217.5M1082.8 1214.7L1104.8 1214.7M1771.8 1214.7L1749.8 1214.7M1082.8 1196.5L1096.5 1196.5M1771.8 1196.5L1758.1 1196.5M1082.8 1185.8L1096.5 1185.8M1771.8 1185.8L1758.1 1185.8M1082.8 1178.3L1096.5 1178.3M1771.8 1178.3L1758.1 1178.3M1082.8 1172.4L1096.5 1172.4M1771.8 1172.4L1758.1 1172.4M1082.8 1167.6L1096.5 1167.6M1771.8 1167.6L1758.1 1167.6M1082.8 1163.6L1096.5 1163.6M1771.8 1163.6L1758.1 1163.6M1082.8 1160.1L1096.5 1160.1M1771.8 1160.1L1758.1 1160.1M1082.8 1157L1096.5 1157M1771.8 1157L1758.1 1157M1082.8 1154.2L1104.8 1154.2M1771.8 1154.2L1749.8 1154.2M1082.8 1136L1096.5 1136M1771.8 1136L1758.1 1136M1082.8 1125.3L1096.5 1125.3M1771.8 1125.3L1758.1 1125.3M1082.8 1117.8L1096.5 1117.8M1771.8 1117.8L1758.1 1117.8M1082.8 1111.9L1096.5 1111.9M1771.8 1111.9L1758.1 1111.9M1082.8 1107.1L1096.5 1107.1M1771.8 1107.1L1758.1 1107.1M1082.8 1103.1L1096.5 1103.1M1771.8 1103.1L1758.1 1103.1M1082.8 1099.6L1096.5 1099.6M1771.8 1099.6L1758.1 1099.6M1082.8 1096.5L1096.5 1096.5M1771.8 1096.5L1758.1 1096.5M1082.8 1093.7L1104.8 1093.7M1771.8 1093.7L1749.8 1093.7M1082.8 1075.5L1096.5 1075.5M1771.8 1075.5L1758.1 1075.5M1082.8 1064.8L1096.5 1064.8M1771.8 1064.8L1758.1 1064.8M1082.8 1057.3L1096.5 1057.3M1771.8 1057.3L1758.1 1057.3M1082.8 1051.4L1096.5 1051.4M1771.8 1051.4L1758.1 1051.4M1082.8 1046.6L1096.5 1046.6M1771.8 1046.6L1758.1 1046.6M1082.8 1042.6L1096.5 1042.6M1771.8 1042.6L1758.1 1042.6M1082.8 1039.1L1096.5 1039.1M1771.8 1039.1L1758.1 1039.1M1082.8 1036L1096.5 1036M1771.8 1036L1758.1 1036M1082.8 1033.2L1104.8 1033.2M1771.8 1033.2L1749.8 1033.2M1082.8 1015L1096.5 1015M1771.8 1015L1758.1 1015M1082.8 1004.3L1096.5 1004.3M1771.8 1004.3L1758.1 1004.3M1082.8 996.8L1096.5 996.8M1771.8 996.8L1758.1 996.8M1082.8 990.9L1096.5 990.9M1771.8 990.9L1758.1 990.9M1082.8 986.1L1096.5 986.1M1771.8 986.1L1758.1 986.1M1082.8 982.1L1096.5 982.1M1771.8 982.1L1758.1 982.1M1082.8 978.6L1096.5 978.6M1771.8 978.6L1758.1 978.6M1082.8 975.5L1096.5 975.5M1771.8 975.5L1758.1 975.5M1082.8 972.7L1104.8 972.7M1771.8 972.7L1749.8 972.7M1082.8 954.5L1096.5 954.5M1771.8 954.5L1758.1 954.5M1082.8 943.8L1096.5 943.8M1771.8 943.8L1758.1 943.8M1082.8 936.3L1096.5 936.3M1771.8 936.3L1758.1 936.3M1082.8 930.4L1096.5 930.4M1771.8 930.4L1758.1 930.4M1082.8 925.6L1096.5 925.6M1771.8 925.6L1758.1 925.6M1082.8 921.6L1096.5 921.6M1771.8 921.6L1758.1 921.6M1082.8 918.1L1096.5 918.1M1771.8 918.1L1758.1 918.1M1082.8 915L1096.5 915M1771.8 915L1758.1 915M1082.8 912.2L1104.8 912.2M1771.8 912.2L1749.8 912.2M1082.8 894L1096.5 894M1771.8 894L1758.1 894M1082.8 883.3L1096.5 883.3M1771.8 883.3L1758.1 883.3M1082.8 875.8L1096.5 875.8M1771.8 875.8L1758.1 875.8M1082.8 869.9L1096.5 869.9M1771.8 869.9L1758.1 869.9M1082.8 865.1L1096.5 865.1M1771.8 865.1L1758.1 865.1M1082.8 861.1L1096.5 861.1M1771.8 861.1L1758.1 861.1M1082.8 857.6L1096.5 857.6M1771.8 857.6L1758.1 857.6M1082.8 854.5L1096.5 854.5M1771.8 854.5L1758.1 854.5" stroke="#000" stroke-width="2.3" fill="none"/>
<g clip-path="url(#cd)">
<path d="M1191.5 1079 L1192 1079.5 L1192.6 1080.2 L1193.3 1081.1 L1194.1 1082 L1195 1082.8 L1195.8 1083.6 L1196.7 1084.3 L1197.6 1085 L1198.7 1085.7 L1200.1 1086.5 L1201.7 1087.5 L1203.5 1088.5 L1205.5 1089.5 L1207.7 1090.6 L1210 1091.8 L1212.2 1092.8 L1214.3 1093.8 L1216.7 1095 L1219.7 1096.4 L1223.7 1098.3 L1229 1100.9 L1235.2 1104.1 L1242.1 1107.5 L1249.2 1111 L1255.9 1114.5 L1262.5 1117.9 L1269.3 1121.5 L1276 1125 L1282.3 1128.5 L1288.1 1131.7 L1293.1 1134.5 L1297.6 1137 L1301.7 1139.5 L1305.6 1141.9 L1309.6 1144.5 L1313.7 1147.2 L1317.8 1150 L1321.7 1152.9 L1325.5 1155.7 L1328.9 1158.5 L1331.9 1161 L1334.6 1163.5 L1337.1 1166 L1339.5 1168.6 L1341.8 1171.3 L1344.2 1174.3 L1346.5 1177.5 L1348.7 1180.8 L1350.8 1184.1 L1352.6 1187.5 L1354.2 1190.8 L1355.6 1194.3 L1356.8 1197.7 L1358 1201.2 L1359 1204.7 L1359.9 1208.1 L1360.8 1211.5 L1361.5 1215 L1362.1 1218.4 L1362.7 1221.8 L1363.2 1225.1 L1363.6 1228.3 L1363.9 1231.5 L1364.1 1235 L1364.4 1239 L1364.7 1243.6 L1364.9 1248.7 L1365.1 1254.1 L1365.2 1259.5 L1365.4 1264.8 L1365.5 1269.8 L1365.6 1275 L1365.7 1280 L1365.7 1284.8 L1365.8 1289.2 L1365.8 1293.5 L1365.9 1297.6 L1365.9 1301.3 L1365.9 1304.4 L1365.9 1306.7" fill="none" stroke="#808080" stroke-width="4.6" stroke-linecap="round" stroke-linejoin="round"/>
<path d="M1191.5 1080.5 L1192 1081 L1192.6 1081.7 L1193.3 1082.6 L1194.1 1083.5 L1195 1084.3 L1195.8 1085.1 L1196.7 1085.8 L1197.6 1086.5 L1198.7 1087.2 L1200.1 1088 L1201.7 1089 L1203.5 1090 L1205.5 1091 L1207.7 1092.1 L1210 1093.2 L1212.2 1094.3 L1214.3 1095.3 L1216.7 1096.5 L1219.7 1097.9 L1223.7 1099.8 L1229 1102.4 L1235.2 1105.6 L1242.1 1109 L1249.2 1112.5 L1255.9 1116 L1262.5 1119.4 L1269.3 1123 L1276 1126.5 L1282.3 1130 L1288.1 1133.2 L1293.1 1136 L1297.6 1138.5 L1301.7 1141 L1305.6 1143.4 L1309.6 1146 L1313.7 1148.7 L1317.8 1151.5 L1321.7 1154.4 L1325.5 1157.2 L1328.9 1160 L1331.9 1162.5 L1334.6 1165 L1337.1 1167.5 L1339.5 1170.1 L1341.8 1172.8 L1344.2 1175.8 L1346.5 1179 L1348.7 1182.3 L1350.8 1185.6 L1352.6 1189 L1354.2 1192.3 L1355.6 1195.8 L1356.8 1199.2 L1358 1202.7 L1359 1206.2 L1359.9 1209.6 L1360.8 1213 L1361.5 1216.5 L1362.1 1219.9 L1362.7 1223.3 L1363.2 1226.6 L1363.6 1229.8 L1363.9 1233 L1364.1 1236.5 L1364.4 1240.5 L1364.7 1245.1 L1364.9 1250.2 L1365.1 1255.6 L1365.2 1261 L1365.4 1266.2 L1365.5 1271.3 L1365.6 1276.5 L1365.7 1281.5 L1365.7 1286.3 L1365.8 1290.8 L1365.8 1295 L1365.9 1299.1 L1365.9 1302.8 L1365.9 1305.9 L1365.9 1308.2" fill="none" stroke="#808080" stroke-width="4.6" stroke-linecap="round" stroke-linejoin="round"/>
<path d="M1365.9 1306.7 L1365.9 1303.7 L1366 1299.5 L1366 1294.5 L1366.1 1289.2 L1366.2 1283.5 L1366.2 1277.2 L1366.3 1270.7 L1366.4 1264.2 L1366.5 1257.8 L1366.6 1251.1 L1366.8 1244.7 L1367 1239 L1367.3 1234.1 L1367.6 1229.9 L1368.1 1225.9 L1368.7 1221.8 L1369.5 1217.5 L1370.6 1213.1 L1371.7 1208.8 L1373 1204.7 L1374.4 1200.7 L1376 1196.8 L1377.7 1193 L1379.4 1189.5 L1381.1 1186.3 L1382.9 1183.3 L1384.8 1180.5 L1386.9 1177.8 L1389.3 1175.2 L1391.8 1172.8 L1394.6 1170.5 L1397.7 1168.2 L1401.3 1165.6 L1405.4 1162.9 L1409.4 1160.4 L1412.7 1158.5 L1414.8 1157.3 L1416.1 1156.8 L1417.6 1156.3 L1420 1155.5 L1423.9 1154 L1428.8 1152.2 L1433.9 1150.3 L1438.5 1148.8 L1442.2 1147.5 L1445.3 1146.5 L1448.5 1145.5 L1452.2 1144.5 L1456.6 1143.1 L1461.5 1141.7 L1466.3 1140.4 L1470.7 1139.2 L1474 1138.3 L1476.7 1137.7 L1479.8 1137 L1484.4 1136 L1491.4 1134.3 L1499.9 1132.2 L1508.7 1130.1 L1516.6 1128.3 L1523.3 1127 L1529.5 1126 L1535.1 1125.1 L1540 1124.2 L1544.1 1123.6 L1547.6 1123 L1550.5 1122.5 L1553.2 1122 L1555.5 1121.3 L1557.3 1120.6 L1559.1 1119.9 L1561 1119 L1562.7 1118.1 L1564.1 1117.1 L1566.3 1115.9 L1570.3 1114.5 L1577.2 1112.5 L1586.1 1110.1 L1595.2 1107.8 L1602.6 1105.8 L1607.9 1104.4 L1612.1 1103.2 L1615.3 1102.2 L1617.6 1101.5 L1627 1099.7 L1628 1098.2 L1629.5 1099.5 L1638 1098.8 L1638.6 1092.2 L1639.5 1085.5 L1641.4 1083.8 L1641.6 1079 L1643.2 1075.2 L1644.4 1066.2 L1645 1061.6 L1645.8 1055 L1646.7 1047.6 L1647.7 1040.3 L1648.7 1033.3 L1649.8 1025.9 L1650.9 1018.7 L1652 1012.5 L1653 1007.4 L1654 1003.2 L1655.1 999.3 L1656.3 995.2 L1657.7 990.9 L1659.1 986.5 L1660.7 982.2 L1662.7 978 L1665 974.2 L1667.5 970.5 L1670.3 966.8 L1673.4 963 L1676.9 959 L1680.8 954.9 L1684.8 950.8 L1688.5 947 L1692 943.3 L1695.4 939.8 L1698.6 936.6 L1701.4 934 L1703.8 932.3 L1706 931.1 L1707.7 930.3 L1708.9 929.8" fill="none" stroke="#808080" stroke-width="4.6" stroke-linecap="round" stroke-linejoin="round"/>
<path d="M1365.9 1308.2 L1365.9 1305.2 L1366 1301 L1366 1296 L1366.1 1290.8 L1366.2 1285 L1366.2 1278.7 L1366.3 1272.2 L1366.4 1265.8 L1366.5 1259.3 L1366.6 1252.6 L1366.8 1246.2 L1367 1240.5 L1367.3 1235.6 L1367.6 1231.4 L1368.1 1227.4 L1368.7 1223.3 L1369.5 1219 L1370.6 1214.6 L1371.7 1210.3 L1373 1206.2 L1374.4 1202.2 L1376 1198.3 L1377.7 1194.5 L1379.4 1191 L1381.1 1187.8 L1382.9 1184.8 L1384.8 1182 L1386.9 1179.2 L1389.3 1176.7 L1391.8 1174.3 L1394.6 1172 L1397.7 1169.7 L1401.3 1167.1 L1405.4 1164.4 L1409.4 1161.9 L1412.7 1160 L1414.8 1158.8 L1416.1 1158.3 L1417.6 1157.8 L1420 1157 L1423.9 1155.5 L1428.8 1153.7 L1433.9 1151.8 L1438.5 1150.2 L1442.2 1149 L1445.3 1148 L1448.5 1147 L1452.2 1146 L1456.6 1144.6 L1461.5 1143.2 L1466.3 1141.9 L1470.7 1140.7 L1474 1139.8 L1476.7 1139.2 L1479.8 1138.5 L1484.4 1137.5 L1491.4 1135.8 L1499.9 1133.7 L1508.7 1131.6 L1516.6 1129.8 L1523.3 1128.5 L1529.5 1127.5 L1535.1 1126.6 L1540 1125.8 L1544.1 1125.1 L1547.6 1124.5 L1550.5 1124 L1553.2 1123.5 L1555.5 1122.8 L1557.3 1122.1 L1559.1 1121.4 L1561 1120.5 L1562.7 1119.6 L1564.1 1118.6 L1566.3 1117.4 L1570.3 1116 L1577.2 1114 L1586.1 1111.6 L1595.2 1109.3 L1602.6 1107.3 L1607.9 1105.9 L1612.1 1104.7 L1615.3 1103.7 L1617.6 1103 L1627 1101.2 L1628 1099.8 L1629.5 1101 L1638 1100.2 L1638.6 1093.8 L1639.5 1087 L1641.4 1085.2 L1641.6 1080.5 L1643.2 1076.8 L1644.4 1067.7 L1645 1063.1 L1645.8 1056.5 L1646.7 1049.1 L1647.7 1041.8 L1648.7 1034.8 L1649.8 1027.4 L1650.9 1020.2 L1652 1014 L1653 1008.9 L1654 1004.7 L1655.1 1000.8 L1656.3 996.8 L1657.7 992.4 L1659.1 988 L1660.7 983.7 L1662.7 979.5 L1665 975.7 L1667.5 972 L1670.3 968.3 L1673.4 964.5 L1676.9 960.5 L1680.8 956.4 L1684.8 952.3 L1688.5 948.5 L1692 944.8 L1695.4 941.3 L1698.6 938.1 L1701.4 935.5 L1703.8 933.8 L1706 932.6 L1707.7 931.8 L1708.9 931.2" fill="none" stroke="#808080" stroke-width="4.6" stroke-linecap="round" stroke-linejoin="round"/>
<path d="M1708.9 929.8 L1708.5 929.2 L1707.8 928.5 L1707 927.9 L1706.1 927.4 L1704.9 927.1 L1703.5 926.8 L1701.6 926.5 L1699.3 926.2 L1697 926 L1695.3 925.9 L1693.5 925.9 L1690.6 926 L1685.8 926.3 L1679.8 926.8 L1673.4 927.5 L1666.6 928.8 L1659.3 930.3 L1652 931.9 L1644.4 933.3 L1636.9 934.8 L1630.5 936.1 L1626.2 937.4 L1623.1 938.6 L1620 939.8 L1616.8 940.8 L1613.5 941.8 L1609 943.6 L1602.5 946.7 L1594.7 950.6 L1587.5 954.5 L1581.1 958.1 L1575.1 961.8 L1570.3 965.1 L1567.1 968 L1564.9 970.5 L1563 972.6 L1561.1 974.2 L1559.4 975.4 L1557.5 977 L1555.1 979.5 L1552.4 982.4 L1550 984.9 L1548.1 986.3 L1546.5 987.3 L1544.6 988.8 L1542.1 991.3 L1539.4 994.2 L1537 996.6 L1535.2 997.8 L1533.7 998.5 L1531.7 999.5 L1528.7 1001.6 L1525.2 1004.1 L1522 1006.2 L1519.4 1007.7 L1517 1008.8 L1514.5 1010.2 L1511.7 1012.4 L1508.7 1014.9 L1506 1017 L1503.8 1018.4 L1501.7 1019.5 L1499.5 1021 L1496.7 1023.5 L1493.8 1026.3 L1491 1028.8 L1488.7 1030.5 L1486.7 1031.9 L1484.4 1033.8 L1481.7 1036.9 L1478.7 1040.5 L1476 1043.8 L1473.9 1045.9 L1472 1047.7 L1469.4 1051 L1465.5 1057.2 L1460.9 1065 L1456.5 1072.5 L1452.6 1079.5 L1448.9 1086.2 L1445.8 1091.8 L1443.6 1095.8 L1442 1098.7 L1440.6 1101.5 L1439.4 1104.7 L1438.4 1107.9 L1437.2 1111.2 L1435.4 1115 L1433.3 1118.9 L1431.5 1122.2 L1430.2 1124.5 L1429.2 1126.3 L1427.7 1128.3 L1425.2 1131.4 L1422.4 1134.8 L1420 1137.8 L1418.9 1139.2 L1418.4 1140.1 L1417 1142.3 L1413.8 1146.9 L1409.8 1152.8 L1406.3 1158.5 L1403.7 1163.3 L1401.6 1167.9 L1399.8 1172.5 L1398.4 1177.6 L1397.3 1182.8 L1396.6 1186.3" fill="none" stroke="#808080" stroke-width="4.6" stroke-linecap="round" stroke-linejoin="round"/>
<path d="M1708.9 931.2 L1708.5 930.7 L1707.8 930 L1707 929.4 L1706.1 928.9 L1704.9 928.6 L1703.5 928.2 L1701.6 928 L1699.3 927.7 L1697 927.5 L1695.3 927.4 L1693.5 927.4 L1690.6 927.5 L1685.8 927.8 L1679.8 928.3 L1673.4 929 L1666.6 930.3 L1659.3 931.8 L1652 933.4 L1644.4 934.8 L1636.9 936.3 L1630.5 937.6 L1626.2 938.9 L1623.1 940.1 L1620 941.2 L1616.8 942.3 L1613.5 943.3 L1609 945.1 L1602.5 948.2 L1594.7 952.1 L1587.5 956 L1581.1 959.6 L1575.1 963.3 L1570.3 966.6 L1567.1 969.5 L1564.9 972 L1563 974.1 L1561.1 975.7 L1559.4 976.9 L1557.5 978.5 L1555.1 981 L1552.4 983.9 L1550 986.4 L1548.1 987.8 L1546.5 988.8 L1544.6 990.2 L1542.1 992.8 L1539.4 995.7 L1537 998.1 L1535.2 999.3 L1533.7 1000 L1531.7 1001 L1528.7 1003.1 L1525.2 1005.6 L1522 1007.8 L1519.4 1009.2 L1517 1010.3 L1514.5 1011.8 L1511.7 1013.9 L1508.7 1016.4 L1506 1018.5 L1503.8 1019.9 L1501.7 1021 L1499.5 1022.5 L1496.7 1025 L1493.8 1027.8 L1491 1030.3 L1488.7 1032 L1486.7 1033.4 L1484.4 1035.3 L1481.7 1038.4 L1478.7 1042 L1476 1045.2 L1473.9 1047.4 L1472 1049.2 L1469.4 1052.5 L1465.5 1058.7 L1460.9 1066.5 L1456.5 1074 L1452.6 1081 L1448.9 1087.7 L1445.8 1093.3 L1443.6 1097.3 L1442 1100.2 L1440.6 1103 L1439.4 1106.2 L1438.4 1109.4 L1437.2 1112.8 L1435.4 1116.5 L1433.3 1120.4 L1431.5 1123.8 L1430.2 1126 L1429.2 1127.8 L1427.7 1129.8 L1425.2 1132.9 L1422.4 1136.3 L1420 1139.2 L1418.9 1140.7 L1418.4 1141.6 L1417 1143.8 L1413.8 1148.4 L1409.8 1154.3 L1406.3 1160 L1403.7 1164.8 L1401.6 1169.4 L1399.8 1174 L1398.4 1179.1 L1397.3 1184.3 L1396.6 1187.8" fill="none" stroke="#808080" stroke-width="4.6" stroke-linecap="round" stroke-linejoin="round"/>
</g>
<path d="M1233.4 1129.8 L1281.6 1153.1 M1262.1 1151.3 L1281.6 1153.1 L1268.1 1139" fill="none" stroke="#000" stroke-width="2.5" stroke-linecap="butt" stroke-linejoin="miter"/>
<path d="M1347.6 1241.5 L1347.6 1299.3 M1340.7 1281 L1347.6 1299.3 L1354.5 1281" fill="none" stroke="#000" stroke-width="2.5" stroke-linecap="butt" stroke-linejoin="miter"/>
<path d="M1382.2 1302.5 L1382.2 1244.7 M1389.1 1263 L1382.2 1244.7 L1375.3 1263" fill="none" stroke="#000" stroke-width="2.5" stroke-linecap="butt" stroke-linejoin="miter"/>
<path d="M1473.3 1166.3 L1526.9 1155.5 M1510.2 1165.9 L1526.9 1155.5 L1507.5 1152.4" fill="none" stroke="#000" stroke-width="2.5" stroke-linecap="butt" stroke-linejoin="miter"/>
<path d="M1663.8 1080.2 L1671.3 1023.1 M1675.7 1042.2 L1671.3 1023.1 L1662.1 1040.5" fill="none" stroke="#000" stroke-width="2.5" stroke-linecap="butt" stroke-linejoin="miter"/>
<path d="M1549.3 955.2 L1505.8 989.1 M1516.1 972.4 L1505.8 989.1 L1524.5 983.2" fill="none" stroke="#000" stroke-width="2.5" stroke-linecap="butt" stroke-linejoin="miter"/>
<rect x="1082.8" y="851.7" width="689" height="544.5" fill="none" stroke="#000" stroke-width="2.3"/>
<text transform="translate(1058.5 868.2) scale(1 1.04)" font-size="43.3" text-anchor="end">10<tspan font-size="27.6" dy="-17.6">2</tspan></text>
<text transform="translate(1058.5 928.7) scale(1 1.04)" font-size="43.3" text-anchor="end">10<tspan font-size="27.6" dy="-17.6">1</tspan></text>
<text transform="translate(1058.5 989.2) scale(1 1.04)" font-size="43.3" text-anchor="end">10<tspan font-size="27.6" dy="-17.6">0</tspan></text>
<text transform="translate(1058.5 1049.7) scale(1 1.04)" font-size="43.3" text-anchor="end">10<tspan font-size="27.6" dy="-17.6">-1</tspan></text>
<text transform="translate(1058.5 1110.2) scale(1 1.04)" font-size="43.3" text-anchor="end">10<tspan font-size="27.6" dy="-17.6">-2</tspan></text>
<text transform="translate(1058.5 1170.7) scale(1 1.04)" font-size="43.3" text-anchor="end">10<tspan font-size="27.6" dy="-17.6">-3</tspan></text>
<text transform="translate(1058.5 1231.2) scale(1 1.04)" font-size="43.3" text-anchor="end">10<tspan font-size="27.6" dy="-17.6">-4</tspan></text>
<text transform="translate(1058.5 1291.7) scale(1 1.04)" font-size="43.3" text-anchor="end">10<tspan font-size="27.6" dy="-17.6">-5</tspan></text>
<text transform="translate(1058.5 1352.2) scale(1 1.04)" font-size="43.3" text-anchor="end">10<tspan font-size="27.6" dy="-17.6">-6</tspan></text>
<text transform="translate(1058.5 1412.7) scale(1 1.04)" font-size="43.3" text-anchor="end">10<tspan font-size="27.6" dy="-17.6">-7</tspan></text>
<text transform="translate(1082.8 1454.5) scale(1 1.04)" font-size="43.3" text-anchor="middle">-0.6</text>
<text transform="translate(1220.6 1454.5) scale(1 1.04)" font-size="43.3" text-anchor="middle">-0.4</text>
<text transform="translate(1358.4 1454.5) scale(1 1.04)" font-size="43.3" text-anchor="middle">-0.2</text>
<text transform="translate(1496.2 1454.5) scale(1 1.04)" font-size="43.3" text-anchor="middle">0.0</text>
<text transform="translate(1634 1454.5) scale(1 1.04)" font-size="43.3" text-anchor="middle">0.2</text>
<text transform="translate(1771.8 1454.5) scale(1 1.04)" font-size="43.3" text-anchor="middle">0.4</text>
<text transform="translate(1427.3 1527.5) scale(1 1.04)" font-size="43.3" text-anchor="middle">Potential, <tspan font-style="italic">E</tspan> (V vs. Ag/AgCl)</text>
<text transform="translate(964.2 1122.9) rotate(-90) scale(1 1.04)" font-size="43.3" text-anchor="middle">Current density, <tspan font-style="italic">I</tspan> (mA cm<tspan font-size="31" dy="-16.7" dx="1.3">−2</tspan><tspan dy="16.7" dx="0.9">)</tspan></text>
<text x="919.9" y="824.1" font-size="52" font-weight="bold">(d)</text>
</g>
</svg>
</body></html>
